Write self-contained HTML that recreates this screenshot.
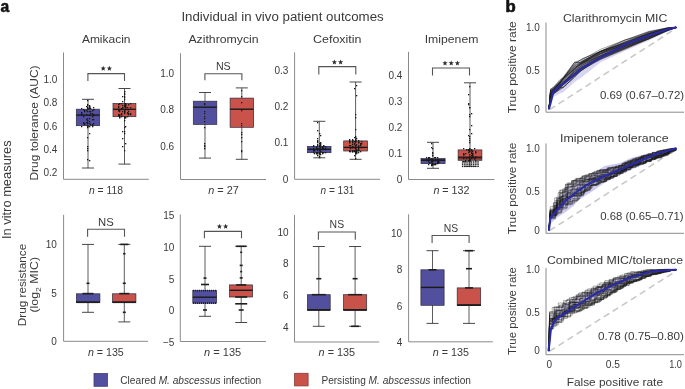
<!DOCTYPE html>
<html><head><meta charset="utf-8"><style>html,body{margin:0;padding:0;background:#fff;overflow:hidden}svg{display:block;will-change:transform}</style></head>
<body><svg width="685" height="389" viewBox="0 0 685 389" font-family='"Liberation Sans", sans-serif'><rect width="685" height="389" fill="#fff"/>
<text x="0.6" y="12.2" font-size="16" text-anchor="start" fill="#111" font-weight="bold" textLength="8.7" lengthAdjust="spacingAndGlyphs" stroke="#111" stroke-width="0.55">a</text>
<text x="505.6" y="12.2" font-size="16" text-anchor="start" fill="#111" font-weight="bold" textLength="10.2" lengthAdjust="spacingAndGlyphs" stroke="#111" stroke-width="0.6">b</text>
<text x="181.4" y="21.2" font-size="12.5" text-anchor="start" fill="#3a3a3a" font-weight="normal" textLength="202.3" lengthAdjust="spacingAndGlyphs">Individual in vivo patient outcomes</text>
<text x="81.9" y="43.1" font-size="11.5" text-anchor="start" fill="#3a3a3a" font-weight="normal" textLength="48.6" lengthAdjust="spacingAndGlyphs">Amikacin</text>
<text x="188.4" y="43.3" font-size="11.5" text-anchor="start" fill="#3a3a3a" font-weight="normal" textLength="70.2" lengthAdjust="spacingAndGlyphs">Azithromycin</text>
<text x="313.1" y="43.3" font-size="11.5" text-anchor="start" fill="#3a3a3a" font-weight="normal" textLength="48.4" lengthAdjust="spacingAndGlyphs">Cefoxitin</text>
<text x="424.7" y="43.3" font-size="11.5" text-anchor="start" fill="#3a3a3a" font-weight="normal" textLength="53.7" lengthAdjust="spacingAndGlyphs">Imipenem</text>
<text transform="translate(37.6,180.6) rotate(-90)" font-size="11.5" text-anchor="start" fill="#3a3a3a" font-weight="normal" textLength="115.2" lengthAdjust="spacingAndGlyphs">Drug tolerance (AUC)</text>
<text transform="translate(10.9,239.1) rotate(-90)" font-size="13.5" text-anchor="start" fill="#3a3a3a" font-weight="normal" textLength="98.8" lengthAdjust="spacingAndGlyphs">In vitro measures</text>
<text transform="translate(25.6,326.3) rotate(-90)" font-size="11.5" text-anchor="start" fill="#3a3a3a" font-weight="normal" textLength="82.5" lengthAdjust="spacingAndGlyphs">Drug resistance</text>
<text transform="translate(38.4,312.5) rotate(-90)" font-size="11.5" fill="#3a3a3a" textLength="55.5" lengthAdjust="spacingAndGlyphs">(log<tspan font-size="8" dy="3">2</tspan><tspan dy="-3"> MIC)</tspan></text>
<path d="M63.5,52.5 V179.3 H148.8" fill="none" stroke="#8a8a8a" stroke-width="1"/>
<text x="57.3" y="82.6" font-size="10" text-anchor="end" fill="#3a3a3a" font-weight="normal">1.0</text>
<text x="57.3" y="105.6" font-size="10" text-anchor="end" fill="#3a3a3a" font-weight="normal">0.8</text>
<text x="57.3" y="129.5" font-size="10" text-anchor="end" fill="#3a3a3a" font-weight="normal">0.6</text>
<text x="57.3" y="153.3" font-size="10" text-anchor="end" fill="#3a3a3a" font-weight="normal">0.4</text>
<text x="57.3" y="175.8" font-size="10" text-anchor="end" fill="#3a3a3a" font-weight="normal">0.2</text>
<line x1="88" y1="99.3" x2="88" y2="168" stroke="#333" stroke-width="0.8"/>
<line x1="82" y1="99.3" x2="94" y2="99.3" stroke="#333" stroke-width="0.9"/>
<line x1="82" y1="168" x2="94" y2="168" stroke="#333" stroke-width="0.9"/>
<rect x="76.3" y="109.2" width="23.299999999999997" height="16.5" fill="#534f9f" stroke="#2a2a3a" stroke-width="0.7"/>
<line x1="76.3" y1="115.1" x2="99.6" y2="115.1" stroke="#1a1a1a" stroke-width="1.4"/>
<rect x="87" y="118" width="1.3" height="1.3" fill="#1a1a1a"/>
<rect x="89" y="105" width="1.3" height="1.3" fill="#1a1a1a"/>
<rect x="87" y="123" width="1.3" height="1.3" fill="#1a1a1a"/>
<rect x="90" y="111" width="1.3" height="1.3" fill="#1a1a1a"/>
<rect x="89" y="118" width="1.3" height="1.3" fill="#1a1a1a"/>
<rect x="84" y="110" width="1.3" height="1.3" fill="#1a1a1a"/>
<rect x="87" y="150" width="1.3" height="1.3" fill="#1a1a1a"/>
<rect x="81" y="126" width="1.3" height="1.3" fill="#1a1a1a"/>
<rect x="87" y="108" width="1.3" height="1.3" fill="#1a1a1a"/>
<rect x="89" y="121" width="1.3" height="1.3" fill="#1a1a1a"/>
<rect x="89" y="133" width="1.3" height="1.3" fill="#1a1a1a"/>
<rect x="87" y="125" width="1.3" height="1.3" fill="#1a1a1a"/>
<rect x="86" y="110" width="1.3" height="1.3" fill="#1a1a1a"/>
<rect x="87" y="120" width="1.3" height="1.3" fill="#1a1a1a"/>
<rect x="93" y="123" width="1.3" height="1.3" fill="#1a1a1a"/>
<rect x="93" y="119" width="1.3" height="1.3" fill="#1a1a1a"/>
<rect x="81" y="114" width="1.3" height="1.3" fill="#1a1a1a"/>
<rect x="87" y="146" width="1.3" height="1.3" fill="#1a1a1a"/>
<rect x="92" y="113" width="1.3" height="1.3" fill="#1a1a1a"/>
<rect x="87" y="148" width="1.3" height="1.3" fill="#1a1a1a"/>
<rect x="87" y="126" width="1.3" height="1.3" fill="#1a1a1a"/>
<rect x="90" y="108" width="1.3" height="1.3" fill="#1a1a1a"/>
<rect x="89" y="123" width="1.3" height="1.3" fill="#1a1a1a"/>
<rect x="86" y="106" width="1.3" height="1.3" fill="#1a1a1a"/>
<rect x="87" y="104" width="1.3" height="1.3" fill="#1a1a1a"/>
<rect x="92" y="119" width="1.3" height="1.3" fill="#1a1a1a"/>
<rect x="87" y="137" width="1.3" height="1.3" fill="#1a1a1a"/>
<rect x="93" y="109" width="1.3" height="1.3" fill="#1a1a1a"/>
<rect x="89" y="126" width="1.3" height="1.3" fill="#1a1a1a"/>
<rect x="81" y="112" width="1.3" height="1.3" fill="#1a1a1a"/>
<rect x="87" y="107" width="1.3" height="1.3" fill="#1a1a1a"/>
<rect x="89" y="106" width="1.3" height="1.3" fill="#1a1a1a"/>
<rect x="92" y="124" width="1.3" height="1.3" fill="#1a1a1a"/>
<rect x="92" y="126" width="1.3" height="1.3" fill="#1a1a1a"/>
<rect x="86" y="119" width="1.3" height="1.3" fill="#1a1a1a"/>
<rect x="87" y="108" width="1.3" height="1.3" fill="#1a1a1a"/>
<rect x="89" y="107" width="1.3" height="1.3" fill="#1a1a1a"/>
<rect x="89" y="107" width="1.3" height="1.3" fill="#1a1a1a"/>
<rect x="87" y="108" width="1.3" height="1.3" fill="#1a1a1a"/>
<rect x="87" y="120" width="1.3" height="1.3" fill="#1a1a1a"/>
<rect x="90" y="113" width="1.3" height="1.3" fill="#1a1a1a"/>
<rect x="81" y="108" width="1.3" height="1.3" fill="#1a1a1a"/>
<rect x="89" y="106" width="1.3" height="1.3" fill="#1a1a1a"/>
<rect x="84" y="111" width="1.3" height="1.3" fill="#1a1a1a"/>
<rect x="93" y="114" width="1.3" height="1.3" fill="#1a1a1a"/>
<rect x="83" y="122" width="1.3" height="1.3" fill="#1a1a1a"/>
<rect x="87" y="105" width="1.3" height="1.3" fill="#1a1a1a"/>
<rect x="87" y="111" width="1.3" height="1.3" fill="#1a1a1a"/>
<rect x="89" y="111" width="1.3" height="1.3" fill="#1a1a1a"/>
<rect x="93" y="109" width="1.3" height="1.3" fill="#1a1a1a"/>
<rect x="86" y="114" width="1.3" height="1.3" fill="#1a1a1a"/>
<rect x="84" y="124" width="1.3" height="1.3" fill="#1a1a1a"/>
<rect x="86" y="122" width="1.3" height="1.3" fill="#1a1a1a"/>
<rect x="87" y="108" width="1.3" height="1.3" fill="#1a1a1a"/>
<rect x="87" y="126" width="1.3" height="1.3" fill="#1a1a1a"/>
<rect x="87" y="127" width="1.3" height="1.3" fill="#1a1a1a"/>
<rect x="83" y="123" width="1.3" height="1.3" fill="#1a1a1a"/>
<rect x="87" y="108" width="1.3" height="1.3" fill="#1a1a1a"/>
<rect x="90" y="124" width="1.3" height="1.3" fill="#1a1a1a"/>
<rect x="89" y="115" width="1.3" height="1.3" fill="#1a1a1a"/>
<rect x="89" y="108" width="1.3" height="1.3" fill="#1a1a1a"/>
<rect x="93" y="107" width="1.3" height="1.3" fill="#1a1a1a"/>
<rect x="87" y="100" width="1.3" height="1.3" fill="#1a1a1a"/>
<rect x="92" y="116" width="1.3" height="1.3" fill="#1a1a1a"/>
<rect x="87" y="159" width="1.3" height="1.3" fill="#1a1a1a"/>
<rect x="87" y="126" width="1.3" height="1.3" fill="#1a1a1a"/>
<rect x="92" y="125" width="1.3" height="1.3" fill="#1a1a1a"/>
<rect x="89" y="160" width="1.3" height="1.3" fill="#1a1a1a"/>
<rect x="83" y="116" width="1.3" height="1.3" fill="#1a1a1a"/>
<rect x="81" y="113" width="1.3" height="1.3" fill="#1a1a1a"/>
<rect x="93" y="115" width="1.3" height="1.3" fill="#1a1a1a"/>
<rect x="92" y="110" width="1.3" height="1.3" fill="#1a1a1a"/>
<rect x="87" y="122" width="1.3" height="1.3" fill="#1a1a1a"/>
<rect x="83" y="109" width="1.3" height="1.3" fill="#1a1a1a"/>
<rect x="84" y="123" width="1.3" height="1.3" fill="#1a1a1a"/>
<line x1="124.5" y1="88.5" x2="124.5" y2="164.1" stroke="#333" stroke-width="0.8"/>
<line x1="118.5" y1="88.5" x2="130.5" y2="88.5" stroke="#333" stroke-width="0.9"/>
<line x1="118.5" y1="164.1" x2="130.5" y2="164.1" stroke="#333" stroke-width="0.9"/>
<rect x="113" y="103.5" width="22.900000000000006" height="13.200000000000003" fill="#c9534a" stroke="#2a2a3a" stroke-width="0.7"/>
<line x1="113" y1="109.3" x2="135.9" y2="109.3" stroke="#1a1a1a" stroke-width="1.4"/>
<rect x="122" y="96" width="1.3" height="1.3" fill="#1a1a1a"/>
<rect x="124" y="106" width="1.3" height="1.3" fill="#1a1a1a"/>
<rect x="118" y="110" width="1.3" height="1.3" fill="#1a1a1a"/>
<rect x="118" y="114" width="1.3" height="1.3" fill="#1a1a1a"/>
<rect x="124" y="116" width="1.3" height="1.3" fill="#1a1a1a"/>
<rect x="119" y="117" width="1.3" height="1.3" fill="#1a1a1a"/>
<rect x="121" y="109" width="1.3" height="1.3" fill="#1a1a1a"/>
<rect x="125" y="107" width="1.3" height="1.3" fill="#1a1a1a"/>
<rect x="122" y="107" width="1.3" height="1.3" fill="#1a1a1a"/>
<rect x="124" y="103" width="1.3" height="1.3" fill="#1a1a1a"/>
<rect x="124" y="103" width="1.3" height="1.3" fill="#1a1a1a"/>
<rect x="128" y="109" width="1.3" height="1.3" fill="#1a1a1a"/>
<rect x="130" y="114" width="1.3" height="1.3" fill="#1a1a1a"/>
<rect x="124" y="96" width="1.3" height="1.3" fill="#1a1a1a"/>
<rect x="127" y="113" width="1.3" height="1.3" fill="#1a1a1a"/>
<rect x="124" y="105" width="1.3" height="1.3" fill="#1a1a1a"/>
<rect x="125" y="103" width="1.3" height="1.3" fill="#1a1a1a"/>
<rect x="118" y="104" width="1.3" height="1.3" fill="#1a1a1a"/>
<rect x="124" y="91" width="1.3" height="1.3" fill="#1a1a1a"/>
<rect x="128" y="113" width="1.3" height="1.3" fill="#1a1a1a"/>
<rect x="125" y="143" width="1.3" height="1.3" fill="#1a1a1a"/>
<rect x="118" y="115" width="1.3" height="1.3" fill="#1a1a1a"/>
<rect x="125" y="105" width="1.3" height="1.3" fill="#1a1a1a"/>
<rect x="119" y="103" width="1.3" height="1.3" fill="#1a1a1a"/>
<rect x="118" y="107" width="1.3" height="1.3" fill="#1a1a1a"/>
<rect x="118" y="115" width="1.3" height="1.3" fill="#1a1a1a"/>
<rect x="124" y="150" width="1.3" height="1.3" fill="#1a1a1a"/>
<rect x="118" y="114" width="1.3" height="1.3" fill="#1a1a1a"/>
<rect x="124" y="131" width="1.3" height="1.3" fill="#1a1a1a"/>
<rect x="128" y="114" width="1.3" height="1.3" fill="#1a1a1a"/>
<rect x="130" y="107" width="1.3" height="1.3" fill="#1a1a1a"/>
<rect x="121" y="103" width="1.3" height="1.3" fill="#1a1a1a"/>
<rect x="125" y="109" width="1.3" height="1.3" fill="#1a1a1a"/>
<rect x="124" y="111" width="1.3" height="1.3" fill="#1a1a1a"/>
<rect x="125" y="117" width="1.3" height="1.3" fill="#1a1a1a"/>
<rect x="125" y="117" width="1.3" height="1.3" fill="#1a1a1a"/>
<rect x="125" y="126" width="1.3" height="1.3" fill="#1a1a1a"/>
<rect x="122" y="131" width="1.3" height="1.3" fill="#1a1a1a"/>
<rect x="121" y="108" width="1.3" height="1.3" fill="#1a1a1a"/>
<rect x="127" y="109" width="1.3" height="1.3" fill="#1a1a1a"/>
<rect x="124" y="127" width="1.3" height="1.3" fill="#1a1a1a"/>
<rect x="121" y="114" width="1.3" height="1.3" fill="#1a1a1a"/>
<rect x="122" y="107" width="1.3" height="1.3" fill="#1a1a1a"/>
<rect x="122" y="146" width="1.3" height="1.3" fill="#1a1a1a"/>
<rect x="124" y="111" width="1.3" height="1.3" fill="#1a1a1a"/>
<rect x="122" y="101" width="1.3" height="1.3" fill="#1a1a1a"/>
<rect x="122" y="111" width="1.3" height="1.3" fill="#1a1a1a"/>
<rect x="121" y="114" width="1.3" height="1.3" fill="#1a1a1a"/>
<rect x="130" y="113" width="1.3" height="1.3" fill="#1a1a1a"/>
<rect x="128" y="111" width="1.3" height="1.3" fill="#1a1a1a"/>
<rect x="119" y="117" width="1.3" height="1.3" fill="#1a1a1a"/>
<rect x="124" y="94" width="1.3" height="1.3" fill="#1a1a1a"/>
<rect x="122" y="105" width="1.3" height="1.3" fill="#1a1a1a"/>
<rect x="119" y="114" width="1.3" height="1.3" fill="#1a1a1a"/>
<rect x="124" y="120" width="1.3" height="1.3" fill="#1a1a1a"/>
<rect x="124" y="97" width="1.3" height="1.3" fill="#1a1a1a"/>
<rect x="124" y="91" width="1.3" height="1.3" fill="#1a1a1a"/>
<rect x="119" y="103" width="1.3" height="1.3" fill="#1a1a1a"/>
<rect x="124" y="106" width="1.3" height="1.3" fill="#1a1a1a"/>
<rect x="124" y="109" width="1.3" height="1.3" fill="#1a1a1a"/>
<rect x="125" y="107" width="1.3" height="1.3" fill="#1a1a1a"/>
<rect x="130" y="103" width="1.3" height="1.3" fill="#1a1a1a"/>
<rect x="124" y="103" width="1.3" height="1.3" fill="#1a1a1a"/>
<rect x="125" y="106" width="1.3" height="1.3" fill="#1a1a1a"/>
<rect x="124" y="116" width="1.3" height="1.3" fill="#1a1a1a"/>
<rect x="124" y="117" width="1.3" height="1.3" fill="#1a1a1a"/>
<rect x="127" y="107" width="1.3" height="1.3" fill="#1a1a1a"/>
<rect x="124" y="112" width="1.3" height="1.3" fill="#1a1a1a"/>
<rect x="124" y="117" width="1.3" height="1.3" fill="#1a1a1a"/>
<rect x="119" y="110" width="1.3" height="1.3" fill="#1a1a1a"/>
<rect x="118" y="110" width="1.3" height="1.3" fill="#1a1a1a"/>
<rect x="124" y="133" width="1.3" height="1.3" fill="#1a1a1a"/>
<rect x="121" y="113" width="1.3" height="1.3" fill="#1a1a1a"/>
<rect x="127" y="116" width="1.3" height="1.3" fill="#1a1a1a"/>
<rect x="121" y="116" width="1.3" height="1.3" fill="#1a1a1a"/>
<rect x="122" y="138" width="1.3" height="1.3" fill="#1a1a1a"/>
<rect x="127" y="112" width="1.3" height="1.3" fill="#1a1a1a"/>
<rect x="119" y="114" width="1.3" height="1.3" fill="#1a1a1a"/>
<rect x="128" y="104" width="1.3" height="1.3" fill="#1a1a1a"/>
<rect x="124" y="113" width="1.3" height="1.3" fill="#1a1a1a"/>
<rect x="118" y="106" width="1.3" height="1.3" fill="#1a1a1a"/>
<rect x="124" y="99" width="1.3" height="1.3" fill="#1a1a1a"/>
<rect x="124" y="110" width="1.3" height="1.3" fill="#1a1a1a"/>
<rect x="124" y="93" width="1.3" height="1.3" fill="#1a1a1a"/>
<rect x="119" y="115" width="1.3" height="1.3" fill="#1a1a1a"/>
<rect x="119" y="111" width="1.3" height="1.3" fill="#1a1a1a"/>
<rect x="119" y="116" width="1.3" height="1.3" fill="#1a1a1a"/>
<rect x="125" y="104" width="1.3" height="1.3" fill="#1a1a1a"/>
<rect x="121" y="108" width="1.3" height="1.3" fill="#1a1a1a"/>
<rect x="125" y="104" width="1.3" height="1.3" fill="#1a1a1a"/>
<path d="M87.9,81 V73.6 H124.5 V81" fill="none" stroke="#555" stroke-width="1.1"/>
<polygon points="103.20,65.70 103.89,67.55 105.86,67.63 104.32,68.86 104.85,70.77 103.20,69.68 101.55,70.77 102.08,68.86 100.54,67.63 102.51,67.55" fill="#2e2e2e"/>
<polygon points="109.40,65.70 110.09,67.55 112.06,67.63 110.52,68.86 111.05,70.77 109.40,69.68 107.75,70.77 108.28,68.86 106.74,67.63 108.71,67.55" fill="#2e2e2e"/>
<text x="89" y="194.2" font-size="11" fill="#3a3a3a" textLength="34" lengthAdjust="spacingAndGlyphs"><tspan font-style="italic">n</tspan> = 118</text>
<path d="M180.5,53.2 V179.5 H266" fill="none" stroke="#8a8a8a" stroke-width="1"/>
<text x="174.2" y="76.8" font-size="10" text-anchor="end" fill="#3a3a3a" font-weight="normal">1.0</text>
<text x="174.2" y="113.0" font-size="10" text-anchor="end" fill="#3a3a3a" font-weight="normal">0.8</text>
<text x="174.2" y="149.8" font-size="10" text-anchor="end" fill="#3a3a3a" font-weight="normal">0.6</text>
<line x1="205" y1="92.5" x2="205" y2="158.1" stroke="#333" stroke-width="0.8"/>
<line x1="199" y1="92.5" x2="211" y2="92.5" stroke="#333" stroke-width="0.9"/>
<line x1="199" y1="158.1" x2="211" y2="158.1" stroke="#333" stroke-width="0.9"/>
<rect x="193.3" y="101.2" width="23.5" height="23.200000000000003" fill="#534f9f" stroke="#2a2a3a" stroke-width="0.7"/>
<line x1="193.3" y1="107.2" x2="216.8" y2="107.2" stroke="#1a1a1a" stroke-width="1.4"/>
<rect x="204" y="143" width="1.3" height="1.3" fill="#1a1a1a"/>
<rect x="204" y="127" width="1.3" height="1.3" fill="#1a1a1a"/>
<rect x="204" y="103" width="1.3" height="1.3" fill="#1a1a1a"/>
<rect x="204" y="104" width="1.3" height="1.3" fill="#1a1a1a"/>
<rect x="204" y="148" width="1.3" height="1.3" fill="#1a1a1a"/>
<rect x="204" y="116" width="1.3" height="1.3" fill="#1a1a1a"/>
<rect x="204" y="111" width="1.3" height="1.3" fill="#1a1a1a"/>
<rect x="204" y="146" width="1.3" height="1.3" fill="#1a1a1a"/>
<rect x="204" y="121" width="1.3" height="1.3" fill="#1a1a1a"/>
<rect x="204" y="118" width="1.3" height="1.3" fill="#1a1a1a"/>
<rect x="204" y="145" width="1.3" height="1.3" fill="#1a1a1a"/>
<rect x="204" y="113" width="1.3" height="1.3" fill="#1a1a1a"/>
<line x1="241.8" y1="87.9" x2="241.8" y2="159.3" stroke="#333" stroke-width="0.8"/>
<line x1="235.8" y1="87.9" x2="247.8" y2="87.9" stroke="#333" stroke-width="0.9"/>
<line x1="235.8" y1="159.3" x2="247.8" y2="159.3" stroke="#333" stroke-width="0.9"/>
<rect x="230.1" y="98.1" width="23.5" height="29.200000000000003" fill="#c9534a" stroke="#2a2a3a" stroke-width="0.7"/>
<line x1="230.1" y1="109.2" x2="253.6" y2="109.2" stroke="#1a1a1a" stroke-width="1.4"/>
<rect x="241" y="151" width="1.3" height="1.3" fill="#1a1a1a"/>
<rect x="241" y="110" width="1.3" height="1.3" fill="#1a1a1a"/>
<rect x="241" y="123" width="1.3" height="1.3" fill="#1a1a1a"/>
<rect x="241" y="125" width="1.3" height="1.3" fill="#1a1a1a"/>
<rect x="241" y="137" width="1.3" height="1.3" fill="#1a1a1a"/>
<rect x="241" y="150" width="1.3" height="1.3" fill="#1a1a1a"/>
<rect x="241" y="134" width="1.3" height="1.3" fill="#1a1a1a"/>
<rect x="241" y="90" width="1.3" height="1.3" fill="#1a1a1a"/>
<rect x="241" y="102" width="1.3" height="1.3" fill="#1a1a1a"/>
<rect x="241" y="132" width="1.3" height="1.3" fill="#1a1a1a"/>
<rect x="241" y="96" width="1.3" height="1.3" fill="#1a1a1a"/>
<rect x="241" y="141" width="1.3" height="1.3" fill="#1a1a1a"/>
<path d="M204.9,80.3 V73.7 H241.9 V80.3" fill="none" stroke="#555" stroke-width="1.1"/>
<text x="223.3" y="69.9" font-size="10.5" text-anchor="middle" fill="#3a3a3a" font-weight="normal" textLength="14.8" lengthAdjust="spacingAndGlyphs">NS</text>
<text x="208.2" y="194.39999999999998" font-size="11" fill="#3a3a3a" textLength="30.7" lengthAdjust="spacingAndGlyphs"><tspan font-style="italic">n</tspan> = 27</text>
<path d="M294.6,52.4 V179.3 H380" fill="none" stroke="#8a8a8a" stroke-width="1"/>
<text x="288.3" y="73.6" font-size="10" text-anchor="end" fill="#3a3a3a" font-weight="normal">0.3</text>
<text x="288.3" y="110.4" font-size="10" text-anchor="end" fill="#3a3a3a" font-weight="normal">0.2</text>
<text x="288.3" y="146.4" font-size="10" text-anchor="end" fill="#3a3a3a" font-weight="normal">0.1</text>
<text x="288.3" y="183.4" font-size="10" text-anchor="end" fill="#3a3a3a" font-weight="normal">0</text>
<line x1="319.3" y1="121.3" x2="319.3" y2="157.8" stroke="#333" stroke-width="0.8"/>
<line x1="313.3" y1="121.3" x2="325.3" y2="121.3" stroke="#333" stroke-width="0.9"/>
<line x1="313.3" y1="157.8" x2="325.3" y2="157.8" stroke="#333" stroke-width="0.9"/>
<rect x="307.5" y="146.5" width="23.5" height="6.199999999999989" fill="#534f9f" stroke="#2a2a3a" stroke-width="0.7"/>
<line x1="307.5" y1="149.3" x2="331" y2="149.3" stroke="#1a1a1a" stroke-width="1.4"/>
<rect x="322" y="146" width="1.3" height="1.3" fill="#1a1a1a"/>
<rect x="317" y="152" width="1.3" height="1.3" fill="#1a1a1a"/>
<rect x="322" y="149" width="1.3" height="1.3" fill="#1a1a1a"/>
<rect x="316" y="147" width="1.3" height="1.3" fill="#1a1a1a"/>
<rect x="325" y="152" width="1.3" height="1.3" fill="#1a1a1a"/>
<rect x="320" y="135" width="1.3" height="1.3" fill="#1a1a1a"/>
<rect x="319" y="149" width="1.3" height="1.3" fill="#1a1a1a"/>
<rect x="316" y="152" width="1.3" height="1.3" fill="#1a1a1a"/>
<rect x="313" y="152" width="1.3" height="1.3" fill="#1a1a1a"/>
<rect x="319" y="153" width="1.3" height="1.3" fill="#1a1a1a"/>
<rect x="319" y="153" width="1.3" height="1.3" fill="#1a1a1a"/>
<rect x="313" y="145" width="1.3" height="1.3" fill="#1a1a1a"/>
<rect x="316" y="152" width="1.3" height="1.3" fill="#1a1a1a"/>
<rect x="314" y="149" width="1.3" height="1.3" fill="#1a1a1a"/>
<rect x="322" y="148" width="1.3" height="1.3" fill="#1a1a1a"/>
<rect x="320" y="149" width="1.3" height="1.3" fill="#1a1a1a"/>
<rect x="313" y="149" width="1.3" height="1.3" fill="#1a1a1a"/>
<rect x="320" y="142" width="1.3" height="1.3" fill="#1a1a1a"/>
<rect x="313" y="148" width="1.3" height="1.3" fill="#1a1a1a"/>
<rect x="317" y="142" width="1.3" height="1.3" fill="#1a1a1a"/>
<rect x="313" y="146" width="1.3" height="1.3" fill="#1a1a1a"/>
<rect x="316" y="148" width="1.3" height="1.3" fill="#1a1a1a"/>
<rect x="325" y="146" width="1.3" height="1.3" fill="#1a1a1a"/>
<rect x="313" y="149" width="1.3" height="1.3" fill="#1a1a1a"/>
<rect x="319" y="143" width="1.3" height="1.3" fill="#1a1a1a"/>
<rect x="317" y="141" width="1.3" height="1.3" fill="#1a1a1a"/>
<rect x="317" y="153" width="1.3" height="1.3" fill="#1a1a1a"/>
<rect x="317" y="148" width="1.3" height="1.3" fill="#1a1a1a"/>
<rect x="319" y="150" width="1.3" height="1.3" fill="#1a1a1a"/>
<rect x="319" y="156" width="1.3" height="1.3" fill="#1a1a1a"/>
<rect x="322" y="152" width="1.3" height="1.3" fill="#1a1a1a"/>
<rect x="320" y="154" width="1.3" height="1.3" fill="#1a1a1a"/>
<rect x="319" y="152" width="1.3" height="1.3" fill="#1a1a1a"/>
<rect x="320" y="145" width="1.3" height="1.3" fill="#1a1a1a"/>
<rect x="319" y="152" width="1.3" height="1.3" fill="#1a1a1a"/>
<rect x="323" y="145" width="1.3" height="1.3" fill="#1a1a1a"/>
<rect x="323" y="145" width="1.3" height="1.3" fill="#1a1a1a"/>
<rect x="317" y="122" width="1.3" height="1.3" fill="#1a1a1a"/>
<rect x="319" y="149" width="1.3" height="1.3" fill="#1a1a1a"/>
<rect x="320" y="143" width="1.3" height="1.3" fill="#1a1a1a"/>
<rect x="319" y="148" width="1.3" height="1.3" fill="#1a1a1a"/>
<rect x="323" y="148" width="1.3" height="1.3" fill="#1a1a1a"/>
<rect x="320" y="147" width="1.3" height="1.3" fill="#1a1a1a"/>
<rect x="320" y="151" width="1.3" height="1.3" fill="#1a1a1a"/>
<rect x="319" y="157" width="1.3" height="1.3" fill="#1a1a1a"/>
<rect x="317" y="140" width="1.3" height="1.3" fill="#1a1a1a"/>
<rect x="323" y="152" width="1.3" height="1.3" fill="#1a1a1a"/>
<rect x="317" y="155" width="1.3" height="1.3" fill="#1a1a1a"/>
<rect x="319" y="145" width="1.3" height="1.3" fill="#1a1a1a"/>
<rect x="319" y="133" width="1.3" height="1.3" fill="#1a1a1a"/>
<rect x="313" y="150" width="1.3" height="1.3" fill="#1a1a1a"/>
<rect x="319" y="153" width="1.3" height="1.3" fill="#1a1a1a"/>
<rect x="319" y="145" width="1.3" height="1.3" fill="#1a1a1a"/>
<rect x="322" y="147" width="1.3" height="1.3" fill="#1a1a1a"/>
<rect x="317" y="150" width="1.3" height="1.3" fill="#1a1a1a"/>
<rect x="316" y="153" width="1.3" height="1.3" fill="#1a1a1a"/>
<rect x="317" y="145" width="1.3" height="1.3" fill="#1a1a1a"/>
<rect x="323" y="146" width="1.3" height="1.3" fill="#1a1a1a"/>
<rect x="325" y="149" width="1.3" height="1.3" fill="#1a1a1a"/>
<rect x="317" y="153" width="1.3" height="1.3" fill="#1a1a1a"/>
<rect x="313" y="150" width="1.3" height="1.3" fill="#1a1a1a"/>
<rect x="319" y="146" width="1.3" height="1.3" fill="#1a1a1a"/>
<rect x="314" y="153" width="1.3" height="1.3" fill="#1a1a1a"/>
<rect x="325" y="148" width="1.3" height="1.3" fill="#1a1a1a"/>
<rect x="319" y="149" width="1.3" height="1.3" fill="#1a1a1a"/>
<rect x="314" y="150" width="1.3" height="1.3" fill="#1a1a1a"/>
<rect x="322" y="153" width="1.3" height="1.3" fill="#1a1a1a"/>
<rect x="317" y="138" width="1.3" height="1.3" fill="#1a1a1a"/>
<rect x="319" y="150" width="1.3" height="1.3" fill="#1a1a1a"/>
<rect x="314" y="149" width="1.3" height="1.3" fill="#1a1a1a"/>
<rect x="319" y="153" width="1.3" height="1.3" fill="#1a1a1a"/>
<rect x="319" y="146" width="1.3" height="1.3" fill="#1a1a1a"/>
<rect x="317" y="144" width="1.3" height="1.3" fill="#1a1a1a"/>
<rect x="316" y="146" width="1.3" height="1.3" fill="#1a1a1a"/>
<rect x="320" y="144" width="1.3" height="1.3" fill="#1a1a1a"/>
<rect x="320" y="151" width="1.3" height="1.3" fill="#1a1a1a"/>
<rect x="325" y="146" width="1.3" height="1.3" fill="#1a1a1a"/>
<rect x="317" y="130" width="1.3" height="1.3" fill="#1a1a1a"/>
<rect x="313" y="150" width="1.3" height="1.3" fill="#1a1a1a"/>
<rect x="316" y="153" width="1.3" height="1.3" fill="#1a1a1a"/>
<line x1="355.6" y1="82" x2="355.6" y2="159.3" stroke="#333" stroke-width="0.8"/>
<line x1="349.6" y1="82" x2="361.6" y2="82" stroke="#333" stroke-width="0.9"/>
<line x1="349.6" y1="159.3" x2="361.6" y2="159.3" stroke="#333" stroke-width="0.9"/>
<rect x="343.7" y="140.9" width="23.80000000000001" height="10.099999999999994" fill="#c9534a" stroke="#2a2a3a" stroke-width="0.7"/>
<line x1="343.7" y1="147.4" x2="367.5" y2="147.4" stroke="#1a1a1a" stroke-width="1.4"/>
<rect x="356" y="138" width="1.3" height="1.3" fill="#1a1a1a"/>
<rect x="349" y="147" width="1.3" height="1.3" fill="#1a1a1a"/>
<rect x="358" y="142" width="1.3" height="1.3" fill="#1a1a1a"/>
<rect x="354" y="143" width="1.3" height="1.3" fill="#1a1a1a"/>
<rect x="355" y="139" width="1.3" height="1.3" fill="#1a1a1a"/>
<rect x="354" y="137" width="1.3" height="1.3" fill="#1a1a1a"/>
<rect x="355" y="158" width="1.3" height="1.3" fill="#1a1a1a"/>
<rect x="354" y="88" width="1.3" height="1.3" fill="#1a1a1a"/>
<rect x="355" y="146" width="1.3" height="1.3" fill="#1a1a1a"/>
<rect x="355" y="140" width="1.3" height="1.3" fill="#1a1a1a"/>
<rect x="355" y="151" width="1.3" height="1.3" fill="#1a1a1a"/>
<rect x="356" y="150" width="1.3" height="1.3" fill="#1a1a1a"/>
<rect x="349" y="139" width="1.3" height="1.3" fill="#1a1a1a"/>
<rect x="358" y="152" width="1.3" height="1.3" fill="#1a1a1a"/>
<rect x="355" y="151" width="1.3" height="1.3" fill="#1a1a1a"/>
<rect x="355" y="137" width="1.3" height="1.3" fill="#1a1a1a"/>
<rect x="349" y="151" width="1.3" height="1.3" fill="#1a1a1a"/>
<rect x="358" y="149" width="1.3" height="1.3" fill="#1a1a1a"/>
<rect x="358" y="142" width="1.3" height="1.3" fill="#1a1a1a"/>
<rect x="349" y="142" width="1.3" height="1.3" fill="#1a1a1a"/>
<rect x="352" y="139" width="1.3" height="1.3" fill="#1a1a1a"/>
<rect x="355" y="151" width="1.3" height="1.3" fill="#1a1a1a"/>
<rect x="355" y="152" width="1.3" height="1.3" fill="#1a1a1a"/>
<rect x="352" y="142" width="1.3" height="1.3" fill="#1a1a1a"/>
<rect x="349" y="145" width="1.3" height="1.3" fill="#1a1a1a"/>
<rect x="356" y="153" width="1.3" height="1.3" fill="#1a1a1a"/>
<rect x="352" y="144" width="1.3" height="1.3" fill="#1a1a1a"/>
<rect x="352" y="140" width="1.3" height="1.3" fill="#1a1a1a"/>
<rect x="355" y="152" width="1.3" height="1.3" fill="#1a1a1a"/>
<rect x="355" y="142" width="1.3" height="1.3" fill="#1a1a1a"/>
<rect x="352" y="151" width="1.3" height="1.3" fill="#1a1a1a"/>
<rect x="349" y="141" width="1.3" height="1.3" fill="#1a1a1a"/>
<rect x="358" y="150" width="1.3" height="1.3" fill="#1a1a1a"/>
<rect x="356" y="150" width="1.3" height="1.3" fill="#1a1a1a"/>
<rect x="352" y="140" width="1.3" height="1.3" fill="#1a1a1a"/>
<rect x="355" y="148" width="1.3" height="1.3" fill="#1a1a1a"/>
<rect x="355" y="148" width="1.3" height="1.3" fill="#1a1a1a"/>
<rect x="358" y="145" width="1.3" height="1.3" fill="#1a1a1a"/>
<rect x="352" y="151" width="1.3" height="1.3" fill="#1a1a1a"/>
<rect x="356" y="151" width="1.3" height="1.3" fill="#1a1a1a"/>
<rect x="349" y="142" width="1.3" height="1.3" fill="#1a1a1a"/>
<rect x="355" y="129" width="1.3" height="1.3" fill="#1a1a1a"/>
<rect x="356" y="144" width="1.3" height="1.3" fill="#1a1a1a"/>
<rect x="355" y="136" width="1.3" height="1.3" fill="#1a1a1a"/>
<rect x="355" y="151" width="1.3" height="1.3" fill="#1a1a1a"/>
<rect x="349" y="150" width="1.3" height="1.3" fill="#1a1a1a"/>
<rect x="354" y="155" width="1.3" height="1.3" fill="#1a1a1a"/>
<rect x="355" y="145" width="1.3" height="1.3" fill="#1a1a1a"/>
<rect x="352" y="146" width="1.3" height="1.3" fill="#1a1a1a"/>
<rect x="352" y="151" width="1.3" height="1.3" fill="#1a1a1a"/>
<rect x="358" y="148" width="1.3" height="1.3" fill="#1a1a1a"/>
<rect x="352" y="147" width="1.3" height="1.3" fill="#1a1a1a"/>
<rect x="352" y="141" width="1.3" height="1.3" fill="#1a1a1a"/>
<rect x="352" y="147" width="1.3" height="1.3" fill="#1a1a1a"/>
<rect x="356" y="85" width="1.3" height="1.3" fill="#1a1a1a"/>
<rect x="356" y="149" width="1.3" height="1.3" fill="#1a1a1a"/>
<rect x="355" y="152" width="1.3" height="1.3" fill="#1a1a1a"/>
<rect x="355" y="140" width="1.3" height="1.3" fill="#1a1a1a"/>
<rect x="361" y="143" width="1.3" height="1.3" fill="#1a1a1a"/>
<rect x="355" y="141" width="1.3" height="1.3" fill="#1a1a1a"/>
<rect x="355" y="151" width="1.3" height="1.3" fill="#1a1a1a"/>
<rect x="350" y="151" width="1.3" height="1.3" fill="#1a1a1a"/>
<rect x="355" y="140" width="1.3" height="1.3" fill="#1a1a1a"/>
<rect x="358" y="150" width="1.3" height="1.3" fill="#1a1a1a"/>
<rect x="360" y="145" width="1.3" height="1.3" fill="#1a1a1a"/>
<rect x="358" y="141" width="1.3" height="1.3" fill="#1a1a1a"/>
<rect x="355" y="117" width="1.3" height="1.3" fill="#1a1a1a"/>
<rect x="352" y="150" width="1.3" height="1.3" fill="#1a1a1a"/>
<rect x="352" y="150" width="1.3" height="1.3" fill="#1a1a1a"/>
<rect x="356" y="152" width="1.3" height="1.3" fill="#1a1a1a"/>
<rect x="361" y="141" width="1.3" height="1.3" fill="#1a1a1a"/>
<rect x="356" y="150" width="1.3" height="1.3" fill="#1a1a1a"/>
<rect x="355" y="153" width="1.3" height="1.3" fill="#1a1a1a"/>
<rect x="358" y="146" width="1.3" height="1.3" fill="#1a1a1a"/>
<rect x="354" y="147" width="1.3" height="1.3" fill="#1a1a1a"/>
<rect x="355" y="145" width="1.3" height="1.3" fill="#1a1a1a"/>
<rect x="361" y="147" width="1.3" height="1.3" fill="#1a1a1a"/>
<rect x="355" y="152" width="1.3" height="1.3" fill="#1a1a1a"/>
<rect x="355" y="152" width="1.3" height="1.3" fill="#1a1a1a"/>
<rect x="354" y="147" width="1.3" height="1.3" fill="#1a1a1a"/>
<rect x="355" y="114" width="1.3" height="1.3" fill="#1a1a1a"/>
<rect x="352" y="142" width="1.3" height="1.3" fill="#1a1a1a"/>
<rect x="352" y="146" width="1.3" height="1.3" fill="#1a1a1a"/>
<rect x="356" y="152" width="1.3" height="1.3" fill="#1a1a1a"/>
<rect x="360" y="144" width="1.3" height="1.3" fill="#1a1a1a"/>
<rect x="354" y="150" width="1.3" height="1.3" fill="#1a1a1a"/>
<rect x="355" y="152" width="1.3" height="1.3" fill="#1a1a1a"/>
<rect x="358" y="140" width="1.3" height="1.3" fill="#1a1a1a"/>
<rect x="356" y="95" width="1.3" height="1.3" fill="#1a1a1a"/>
<rect x="360" y="143" width="1.3" height="1.3" fill="#1a1a1a"/>
<rect x="350" y="145" width="1.3" height="1.3" fill="#1a1a1a"/>
<rect x="354" y="141" width="1.3" height="1.3" fill="#1a1a1a"/>
<rect x="349" y="140" width="1.3" height="1.3" fill="#1a1a1a"/>
<rect x="355" y="140" width="1.3" height="1.3" fill="#1a1a1a"/>
<rect x="349" y="141" width="1.3" height="1.3" fill="#1a1a1a"/>
<rect x="360" y="151" width="1.3" height="1.3" fill="#1a1a1a"/>
<rect x="354" y="144" width="1.3" height="1.3" fill="#1a1a1a"/>
<rect x="350" y="148" width="1.3" height="1.3" fill="#1a1a1a"/>
<rect x="354" y="151" width="1.3" height="1.3" fill="#1a1a1a"/>
<rect x="355" y="150" width="1.3" height="1.3" fill="#1a1a1a"/>
<path d="M318.8,74.6 V66.6 H355.8 V74.6" fill="none" stroke="#555" stroke-width="1.1"/>
<polygon points="334.40,59.40 335.09,61.25 337.06,61.33 335.52,62.56 336.05,64.47 334.40,63.38 332.75,64.47 333.28,62.56 331.74,61.33 333.71,61.25" fill="#2e2e2e"/>
<polygon points="340.60,59.40 341.29,61.25 343.26,61.33 341.72,62.56 342.25,64.47 340.60,63.38 338.95,64.47 339.48,62.56 337.94,61.33 339.91,61.25" fill="#2e2e2e"/>
<text x="320.5" y="194.0" font-size="11" fill="#3a3a3a" textLength="33.9" lengthAdjust="spacingAndGlyphs"><tspan font-style="italic">n</tspan> = 131</text>
<path d="M408.5,51.8 V179.5 H494.5" fill="none" stroke="#8a8a8a" stroke-width="1"/>
<text x="402.3" y="78.7" font-size="10" text-anchor="end" fill="#3a3a3a" font-weight="normal">0.4</text>
<text x="402.3" y="104.8" font-size="10" text-anchor="end" fill="#3a3a3a" font-weight="normal">0.3</text>
<text x="402.3" y="130.8" font-size="10" text-anchor="end" fill="#3a3a3a" font-weight="normal">0.2</text>
<text x="402.3" y="156.8" font-size="10" text-anchor="end" fill="#3a3a3a" font-weight="normal">0.1</text>
<text x="402.3" y="183.4" font-size="10" text-anchor="end" fill="#3a3a3a" font-weight="normal">0</text>
<line x1="433" y1="142.3" x2="433" y2="168.3" stroke="#333" stroke-width="0.8"/>
<line x1="427" y1="142.3" x2="439" y2="142.3" stroke="#333" stroke-width="0.9"/>
<line x1="427" y1="168.3" x2="439" y2="168.3" stroke="#333" stroke-width="0.9"/>
<rect x="421" y="158.6" width="24.100000000000023" height="5.0" fill="#534f9f" stroke="#2a2a3a" stroke-width="0.7"/>
<line x1="421" y1="160.3" x2="445.1" y2="160.3" stroke="#1a1a1a" stroke-width="1.4"/>
<rect x="429" y="157" width="1.3" height="1.3" fill="#1a1a1a"/>
<rect x="426" y="157" width="1.3" height="1.3" fill="#1a1a1a"/>
<rect x="432" y="153" width="1.3" height="1.3" fill="#1a1a1a"/>
<rect x="431" y="158" width="1.3" height="1.3" fill="#1a1a1a"/>
<rect x="432" y="160" width="1.3" height="1.3" fill="#1a1a1a"/>
<rect x="428" y="157" width="1.3" height="1.3" fill="#1a1a1a"/>
<rect x="432" y="164" width="1.3" height="1.3" fill="#1a1a1a"/>
<rect x="435" y="157" width="1.3" height="1.3" fill="#1a1a1a"/>
<rect x="432" y="163" width="1.3" height="1.3" fill="#1a1a1a"/>
<rect x="431" y="164" width="1.3" height="1.3" fill="#1a1a1a"/>
<rect x="432" y="155" width="1.3" height="1.3" fill="#1a1a1a"/>
<rect x="437" y="161" width="1.3" height="1.3" fill="#1a1a1a"/>
<rect x="428" y="161" width="1.3" height="1.3" fill="#1a1a1a"/>
<rect x="437" y="163" width="1.3" height="1.3" fill="#1a1a1a"/>
<rect x="435" y="159" width="1.3" height="1.3" fill="#1a1a1a"/>
<rect x="431" y="161" width="1.3" height="1.3" fill="#1a1a1a"/>
<rect x="438" y="159" width="1.3" height="1.3" fill="#1a1a1a"/>
<rect x="438" y="161" width="1.3" height="1.3" fill="#1a1a1a"/>
<rect x="438" y="159" width="1.3" height="1.3" fill="#1a1a1a"/>
<rect x="432" y="163" width="1.3" height="1.3" fill="#1a1a1a"/>
<rect x="431" y="165" width="1.3" height="1.3" fill="#1a1a1a"/>
<rect x="431" y="147" width="1.3" height="1.3" fill="#1a1a1a"/>
<rect x="434" y="164" width="1.3" height="1.3" fill="#1a1a1a"/>
<rect x="432" y="148" width="1.3" height="1.3" fill="#1a1a1a"/>
<rect x="426" y="160" width="1.3" height="1.3" fill="#1a1a1a"/>
<rect x="431" y="159" width="1.3" height="1.3" fill="#1a1a1a"/>
<rect x="432" y="159" width="1.3" height="1.3" fill="#1a1a1a"/>
<rect x="428" y="164" width="1.3" height="1.3" fill="#1a1a1a"/>
<rect x="429" y="159" width="1.3" height="1.3" fill="#1a1a1a"/>
<rect x="431" y="158" width="1.3" height="1.3" fill="#1a1a1a"/>
<rect x="438" y="162" width="1.3" height="1.3" fill="#1a1a1a"/>
<rect x="437" y="162" width="1.3" height="1.3" fill="#1a1a1a"/>
<rect x="438" y="161" width="1.3" height="1.3" fill="#1a1a1a"/>
<rect x="432" y="159" width="1.3" height="1.3" fill="#1a1a1a"/>
<rect x="435" y="163" width="1.3" height="1.3" fill="#1a1a1a"/>
<rect x="432" y="161" width="1.3" height="1.3" fill="#1a1a1a"/>
<rect x="435" y="160" width="1.3" height="1.3" fill="#1a1a1a"/>
<rect x="435" y="163" width="1.3" height="1.3" fill="#1a1a1a"/>
<rect x="435" y="164" width="1.3" height="1.3" fill="#1a1a1a"/>
<rect x="432" y="155" width="1.3" height="1.3" fill="#1a1a1a"/>
<rect x="437" y="157" width="1.3" height="1.3" fill="#1a1a1a"/>
<rect x="437" y="159" width="1.3" height="1.3" fill="#1a1a1a"/>
<rect x="432" y="164" width="1.3" height="1.3" fill="#1a1a1a"/>
<rect x="431" y="161" width="1.3" height="1.3" fill="#1a1a1a"/>
<rect x="437" y="162" width="1.3" height="1.3" fill="#1a1a1a"/>
<rect x="432" y="161" width="1.3" height="1.3" fill="#1a1a1a"/>
<rect x="432" y="164" width="1.3" height="1.3" fill="#1a1a1a"/>
<rect x="432" y="152" width="1.3" height="1.3" fill="#1a1a1a"/>
<rect x="429" y="159" width="1.3" height="1.3" fill="#1a1a1a"/>
<rect x="438" y="162" width="1.3" height="1.3" fill="#1a1a1a"/>
<rect x="432" y="164" width="1.3" height="1.3" fill="#1a1a1a"/>
<rect x="429" y="162" width="1.3" height="1.3" fill="#1a1a1a"/>
<rect x="434" y="160" width="1.3" height="1.3" fill="#1a1a1a"/>
<rect x="426" y="159" width="1.3" height="1.3" fill="#1a1a1a"/>
<rect x="429" y="162" width="1.3" height="1.3" fill="#1a1a1a"/>
<rect x="428" y="158" width="1.3" height="1.3" fill="#1a1a1a"/>
<rect x="434" y="157" width="1.3" height="1.3" fill="#1a1a1a"/>
<rect x="432" y="164" width="1.3" height="1.3" fill="#1a1a1a"/>
<rect x="431" y="162" width="1.3" height="1.3" fill="#1a1a1a"/>
<rect x="431" y="143" width="1.3" height="1.3" fill="#1a1a1a"/>
<line x1="421.5" y1="159.8" x2="444.5" y2="159.8" stroke="#1e1e1e" stroke-width="1.8" stroke-dasharray="1 1"/>
<line x1="470" y1="82.8" x2="470" y2="166.3" stroke="#333" stroke-width="0.8"/>
<line x1="464" y1="82.8" x2="476" y2="82.8" stroke="#333" stroke-width="0.9"/>
<line x1="464" y1="166.3" x2="476" y2="166.3" stroke="#333" stroke-width="0.9"/>
<rect x="458.1" y="149.9" width="23.799999999999955" height="10.400000000000006" fill="#c9534a" stroke="#2a2a3a" stroke-width="0.7"/>
<line x1="458.1" y1="157.2" x2="481.9" y2="157.2" stroke="#1a1a1a" stroke-width="1.4"/>
<rect x="469" y="150" width="1.3" height="1.3" fill="#1a1a1a"/>
<rect x="471" y="125" width="1.3" height="1.3" fill="#1a1a1a"/>
<rect x="469" y="160" width="1.3" height="1.3" fill="#1a1a1a"/>
<rect x="469" y="159" width="1.3" height="1.3" fill="#1a1a1a"/>
<rect x="468" y="149" width="1.3" height="1.3" fill="#1a1a1a"/>
<rect x="466" y="149" width="1.3" height="1.3" fill="#1a1a1a"/>
<rect x="469" y="157" width="1.3" height="1.3" fill="#1a1a1a"/>
<rect x="468" y="94" width="1.3" height="1.3" fill="#1a1a1a"/>
<rect x="468" y="160" width="1.3" height="1.3" fill="#1a1a1a"/>
<rect x="469" y="142" width="1.3" height="1.3" fill="#1a1a1a"/>
<rect x="463" y="153" width="1.3" height="1.3" fill="#1a1a1a"/>
<rect x="463" y="154" width="1.3" height="1.3" fill="#1a1a1a"/>
<rect x="474" y="158" width="1.3" height="1.3" fill="#1a1a1a"/>
<rect x="469" y="114" width="1.3" height="1.3" fill="#1a1a1a"/>
<rect x="475" y="156" width="1.3" height="1.3" fill="#1a1a1a"/>
<rect x="469" y="160" width="1.3" height="1.3" fill="#1a1a1a"/>
<rect x="465" y="161" width="1.3" height="1.3" fill="#1a1a1a"/>
<rect x="466" y="158" width="1.3" height="1.3" fill="#1a1a1a"/>
<rect x="475" y="152" width="1.3" height="1.3" fill="#1a1a1a"/>
<rect x="469" y="148" width="1.3" height="1.3" fill="#1a1a1a"/>
<rect x="469" y="149" width="1.3" height="1.3" fill="#1a1a1a"/>
<rect x="472" y="155" width="1.3" height="1.3" fill="#1a1a1a"/>
<rect x="472" y="157" width="1.3" height="1.3" fill="#1a1a1a"/>
<rect x="463" y="157" width="1.3" height="1.3" fill="#1a1a1a"/>
<rect x="471" y="157" width="1.3" height="1.3" fill="#1a1a1a"/>
<rect x="474" y="148" width="1.3" height="1.3" fill="#1a1a1a"/>
<rect x="469" y="160" width="1.3" height="1.3" fill="#1a1a1a"/>
<rect x="468" y="104" width="1.3" height="1.3" fill="#1a1a1a"/>
<rect x="468" y="160" width="1.3" height="1.3" fill="#1a1a1a"/>
<rect x="469" y="159" width="1.3" height="1.3" fill="#1a1a1a"/>
<rect x="471" y="150" width="1.3" height="1.3" fill="#1a1a1a"/>
<rect x="475" y="152" width="1.3" height="1.3" fill="#1a1a1a"/>
<rect x="468" y="157" width="1.3" height="1.3" fill="#1a1a1a"/>
<rect x="463" y="148" width="1.3" height="1.3" fill="#1a1a1a"/>
<rect x="472" y="151" width="1.3" height="1.3" fill="#1a1a1a"/>
<rect x="475" y="151" width="1.3" height="1.3" fill="#1a1a1a"/>
<rect x="468" y="160" width="1.3" height="1.3" fill="#1a1a1a"/>
<rect x="469" y="154" width="1.3" height="1.3" fill="#1a1a1a"/>
<rect x="471" y="133" width="1.3" height="1.3" fill="#1a1a1a"/>
<rect x="475" y="160" width="1.3" height="1.3" fill="#1a1a1a"/>
<rect x="469" y="129" width="1.3" height="1.3" fill="#1a1a1a"/>
<rect x="469" y="138" width="1.3" height="1.3" fill="#1a1a1a"/>
<rect x="472" y="154" width="1.3" height="1.3" fill="#1a1a1a"/>
<rect x="469" y="160" width="1.3" height="1.3" fill="#1a1a1a"/>
<rect x="463" y="154" width="1.3" height="1.3" fill="#1a1a1a"/>
<rect x="472" y="155" width="1.3" height="1.3" fill="#1a1a1a"/>
<rect x="469" y="116" width="1.3" height="1.3" fill="#1a1a1a"/>
<rect x="469" y="107" width="1.3" height="1.3" fill="#1a1a1a"/>
<rect x="471" y="155" width="1.3" height="1.3" fill="#1a1a1a"/>
<rect x="469" y="86" width="1.3" height="1.3" fill="#1a1a1a"/>
<rect x="471" y="150" width="1.3" height="1.3" fill="#1a1a1a"/>
<rect x="474" y="158" width="1.3" height="1.3" fill="#1a1a1a"/>
<rect x="469" y="150" width="1.3" height="1.3" fill="#1a1a1a"/>
<rect x="463" y="161" width="1.3" height="1.3" fill="#1a1a1a"/>
<rect x="472" y="153" width="1.3" height="1.3" fill="#1a1a1a"/>
<rect x="471" y="113" width="1.3" height="1.3" fill="#1a1a1a"/>
<rect x="469" y="140" width="1.3" height="1.3" fill="#1a1a1a"/>
<rect x="469" y="154" width="1.3" height="1.3" fill="#1a1a1a"/>
<rect x="469" y="160" width="1.3" height="1.3" fill="#1a1a1a"/>
<rect x="471" y="158" width="1.3" height="1.3" fill="#1a1a1a"/>
<rect x="469" y="151" width="1.3" height="1.3" fill="#1a1a1a"/>
<rect x="475" y="157" width="1.3" height="1.3" fill="#1a1a1a"/>
<rect x="471" y="153" width="1.3" height="1.3" fill="#1a1a1a"/>
<rect x="466" y="149" width="1.3" height="1.3" fill="#1a1a1a"/>
<rect x="468" y="135" width="1.3" height="1.3" fill="#1a1a1a"/>
<rect x="471" y="152" width="1.3" height="1.3" fill="#1a1a1a"/>
<rect x="468" y="103" width="1.3" height="1.3" fill="#1a1a1a"/>
<rect x="469" y="158" width="1.3" height="1.3" fill="#1a1a1a"/>
<rect x="468" y="150" width="1.3" height="1.3" fill="#1a1a1a"/>
<rect x="469" y="136" width="1.3" height="1.3" fill="#1a1a1a"/>
<rect x="472" y="153" width="1.3" height="1.3" fill="#1a1a1a"/>
<rect x="471" y="155" width="1.3" height="1.3" fill="#1a1a1a"/>
<rect x="463" y="154" width="1.3" height="1.3" fill="#1a1a1a"/>
<rect x="463" y="157" width="1.3" height="1.3" fill="#1a1a1a"/>
<rect x="465" y="160" width="1.3" height="1.3" fill="#1a1a1a"/>
<rect x="469" y="107" width="1.3" height="1.3" fill="#1a1a1a"/>
<rect x="469" y="156" width="1.3" height="1.3" fill="#1a1a1a"/>
<rect x="471" y="150" width="1.3" height="1.3" fill="#1a1a1a"/>
<rect x="468" y="150" width="1.3" height="1.3" fill="#1a1a1a"/>
<rect x="472" y="156" width="1.3" height="1.3" fill="#1a1a1a"/>
<rect x="463" y="154" width="1.3" height="1.3" fill="#1a1a1a"/>
<rect x="469" y="148" width="1.3" height="1.3" fill="#1a1a1a"/>
<rect x="465" y="153" width="1.3" height="1.3" fill="#1a1a1a"/>
<rect x="471" y="149" width="1.3" height="1.3" fill="#1a1a1a"/>
<rect x="469" y="151" width="1.3" height="1.3" fill="#1a1a1a"/>
<rect x="469" y="160" width="1.3" height="1.3" fill="#1a1a1a"/>
<rect x="474" y="158" width="1.3" height="1.3" fill="#1a1a1a"/>
<rect x="463" y="158" width="1.3" height="1.3" fill="#1a1a1a"/>
<rect x="468" y="152" width="1.3" height="1.3" fill="#1a1a1a"/>
<rect x="469" y="159" width="1.3" height="1.3" fill="#1a1a1a"/>
<line x1="458.5" y1="158.6" x2="481.5" y2="158.6" stroke="#1e1e1e" stroke-width="1.8" stroke-dasharray="1 1"/>
<rect x="461.9" y="161.2" width="1.5" height="1.5" fill="#1e1e1e"/>
<rect x="464.1" y="161.2" width="1.5" height="1.5" fill="#1e1e1e"/>
<rect x="466.3" y="161.2" width="1.5" height="1.5" fill="#1e1e1e"/>
<rect x="468.5" y="161.2" width="1.5" height="1.5" fill="#1e1e1e"/>
<rect x="470.7" y="161.2" width="1.5" height="1.5" fill="#1e1e1e"/>
<rect x="472.9" y="161.2" width="1.5" height="1.5" fill="#1e1e1e"/>
<rect x="475.1" y="161.2" width="1.5" height="1.5" fill="#1e1e1e"/>
<rect x="477.3" y="161.2" width="1.5" height="1.5" fill="#1e1e1e"/>
<rect x="461.9" y="163.4" width="1.5" height="1.5" fill="#1e1e1e"/>
<rect x="464.1" y="163.4" width="1.5" height="1.5" fill="#1e1e1e"/>
<rect x="466.3" y="163.4" width="1.5" height="1.5" fill="#1e1e1e"/>
<rect x="468.5" y="163.4" width="1.5" height="1.5" fill="#1e1e1e"/>
<rect x="470.7" y="163.4" width="1.5" height="1.5" fill="#1e1e1e"/>
<rect x="472.9" y="163.4" width="1.5" height="1.5" fill="#1e1e1e"/>
<rect x="475.1" y="163.4" width="1.5" height="1.5" fill="#1e1e1e"/>
<rect x="477.3" y="163.4" width="1.5" height="1.5" fill="#1e1e1e"/>
<rect x="461.9" y="165.6" width="1.5" height="1.5" fill="#1e1e1e"/>
<rect x="464.1" y="165.6" width="1.5" height="1.5" fill="#1e1e1e"/>
<rect x="466.3" y="165.6" width="1.5" height="1.5" fill="#1e1e1e"/>
<rect x="468.5" y="165.6" width="1.5" height="1.5" fill="#1e1e1e"/>
<rect x="470.7" y="165.6" width="1.5" height="1.5" fill="#1e1e1e"/>
<rect x="472.9" y="165.6" width="1.5" height="1.5" fill="#1e1e1e"/>
<rect x="475.1" y="165.6" width="1.5" height="1.5" fill="#1e1e1e"/>
<rect x="477.3" y="165.6" width="1.5" height="1.5" fill="#1e1e1e"/>
<path d="M432.5,75.5 V68 H469.5 V75.5" fill="none" stroke="#555" stroke-width="1.1"/>
<polygon points="445.00,60.40 445.69,62.25 447.66,62.33 446.12,63.56 446.65,65.47 445.00,64.38 443.35,65.47 443.88,63.56 442.34,62.33 444.31,62.25" fill="#2e2e2e"/>
<polygon points="451.20,60.40 451.89,62.25 453.86,62.33 452.32,63.56 452.85,65.47 451.20,64.38 449.55,65.47 450.08,63.56 448.54,62.33 450.51,62.25" fill="#2e2e2e"/>
<polygon points="457.40,60.40 458.09,62.25 460.06,62.33 458.52,63.56 459.05,65.47 457.40,64.38 455.75,65.47 456.28,63.56 454.74,62.33 456.71,62.25" fill="#2e2e2e"/>
<text x="433.4" y="194.0" font-size="11" fill="#3a3a3a" textLength="36.1" lengthAdjust="spacingAndGlyphs"><tspan font-style="italic">n</tspan> = 132</text>
<path d="M63.6,214.8 V341.3 H148" fill="none" stroke="#8a8a8a" stroke-width="1"/>
<text x="56.8" y="248.4" font-size="10" text-anchor="end" fill="#3a3a3a" font-weight="normal">10</text>
<text x="56.8" y="297.3" font-size="10" text-anchor="end" fill="#3a3a3a" font-weight="normal">5</text>
<text x="56.8" y="345.1" font-size="10" text-anchor="end" fill="#3a3a3a" font-weight="normal">0</text>
<line x1="88" y1="244.4" x2="88" y2="312.3" stroke="#333" stroke-width="0.8"/>
<line x1="82" y1="244.4" x2="94" y2="244.4" stroke="#333" stroke-width="0.9"/>
<line x1="82" y1="312.3" x2="94" y2="312.3" stroke="#333" stroke-width="0.9"/>
<rect x="76.4" y="293.8" width="23.5" height="8.699999999999989" fill="#534f9f" stroke="#2a2a3a" stroke-width="0.7"/>
<line x1="76.4" y1="302.2" x2="99.9" y2="302.2" stroke="#1a1a1a" stroke-width="1.4"/>
<rect x="86.50" y="282.50" width="3.00" height="1.6" fill="#1e1e1e"/>
<rect x="82.50" y="292.80" width="11.00" height="1.6" fill="#1e1e1e"/>
<rect x="76.50" y="301.50" width="23.00" height="1.6" fill="#1e1e1e"/>
<line x1="124.3" y1="244.4" x2="124.3" y2="321.9" stroke="#333" stroke-width="0.8"/>
<line x1="118.3" y1="244.4" x2="130.3" y2="244.4" stroke="#333" stroke-width="0.9"/>
<line x1="118.3" y1="321.9" x2="130.3" y2="321.9" stroke="#333" stroke-width="0.9"/>
<rect x="112.5" y="293.8" width="23.400000000000006" height="8.699999999999989" fill="#c9534a" stroke="#2a2a3a" stroke-width="0.7"/>
<line x1="112.5" y1="302.2" x2="135.9" y2="302.2" stroke="#1a1a1a" stroke-width="1.4"/>
<rect x="123.10" y="252.90" width="2.40" height="1.6" fill="#1e1e1e"/>
<rect x="122.80" y="282.50" width="3.00" height="1.6" fill="#1e1e1e"/>
<rect x="119.30" y="292.80" width="10.00" height="1.6" fill="#1e1e1e"/>
<rect x="112.80" y="301.50" width="23.00" height="1.6" fill="#1e1e1e"/>
<rect x="122.80" y="311.50" width="3.00" height="1.6" fill="#1e1e1e"/>
<rect x="120.30" y="243.60" width="8.00" height="1.6" fill="#1e1e1e"/>
<path d="M87.6,236.7 V229.2 H124.5 V236.7" fill="none" stroke="#555" stroke-width="1.1"/>
<text x="105.94999999999999" y="226.2" font-size="10.5" text-anchor="middle" fill="#3a3a3a" font-weight="normal" textLength="15.7" lengthAdjust="spacingAndGlyphs">NS</text>
<text x="87.9" y="356.09999999999997" font-size="11" fill="#3a3a3a" textLength="35.9" lengthAdjust="spacingAndGlyphs"><tspan font-style="italic">n</tspan> = 135</text>
<path d="M180.3,214.5 V341.5 H266" fill="none" stroke="#8a8a8a" stroke-width="1"/>
<text x="174.3" y="218.7" font-size="10" text-anchor="end" fill="#3a3a3a" font-weight="normal">15</text>
<text x="174.3" y="250.6" font-size="10" text-anchor="end" fill="#3a3a3a" font-weight="normal">10</text>
<text x="174.3" y="282.6" font-size="10" text-anchor="end" fill="#3a3a3a" font-weight="normal">5</text>
<text x="174.3" y="314.3" font-size="10" text-anchor="end" fill="#3a3a3a" font-weight="normal">0</text>
<text x="174.3" y="345.9" font-size="10" text-anchor="end" fill="#3a3a3a" font-weight="normal">−5</text>
<line x1="205" y1="246.3" x2="205" y2="316.3" stroke="#333" stroke-width="0.8"/>
<line x1="199" y1="246.3" x2="211" y2="246.3" stroke="#333" stroke-width="0.9"/>
<line x1="199" y1="316.3" x2="211" y2="316.3" stroke="#333" stroke-width="0.9"/>
<rect x="192.8" y="290.6" width="23.799999999999983" height="12.599999999999966" fill="#534f9f" stroke="#2a2a3a" stroke-width="0.7"/>
<line x1="192.8" y1="297.2" x2="216.6" y2="297.2" stroke="#1a1a1a" stroke-width="1.4"/>
<rect x="203.50" y="277.30" width="3.00" height="1.6" fill="#1e1e1e"/>
<rect x="201.00" y="283.70" width="8.00" height="1.6" fill="#1e1e1e"/>
<rect x="203.00" y="309.20" width="4.00" height="1.6" fill="#1e1e1e"/>
<line x1="193" y1="290.6" x2="217" y2="290.6" stroke="#1e1e1e" stroke-width="1.8" stroke-dasharray="1 1"/>
<line x1="193" y1="303.2" x2="217" y2="303.2" stroke="#1e1e1e" stroke-width="1.8" stroke-dasharray="1 1"/>
<line x1="241.2" y1="246.3" x2="241.2" y2="322.5" stroke="#333" stroke-width="0.8"/>
<line x1="235.2" y1="246.3" x2="247.2" y2="246.3" stroke="#333" stroke-width="0.9"/>
<line x1="235.2" y1="322.5" x2="247.2" y2="322.5" stroke="#333" stroke-width="0.9"/>
<rect x="229.5" y="284.9" width="23.099999999999994" height="12.100000000000023" fill="#c9534a" stroke="#2a2a3a" stroke-width="0.7"/>
<line x1="229.5" y1="290.3" x2="252.6" y2="290.3" stroke="#1a1a1a" stroke-width="1.4"/>
<rect x="240.20" y="251.50" width="2.00" height="1.6" fill="#1e1e1e"/>
<rect x="239.70" y="264.60" width="3.00" height="1.6" fill="#1e1e1e"/>
<rect x="240.20" y="270.80" width="2.00" height="1.6" fill="#1e1e1e"/>
<rect x="239.70" y="277.10" width="3.00" height="1.6" fill="#1e1e1e"/>
<rect x="236.20" y="284.10" width="10.00" height="1.6" fill="#1e1e1e"/>
<rect x="235.20" y="296.20" width="12.00" height="1.6" fill="#1e1e1e"/>
<rect x="235.20" y="303.00" width="12.00" height="1.6" fill="#1e1e1e"/>
<rect x="238.70" y="309.20" width="5.00" height="1.6" fill="#1e1e1e"/>
<rect x="236.20" y="245.50" width="10.00" height="1.6" fill="#1e1e1e"/>
<path d="M204.4,238.2 V231.4 H241.5 V238.2" fill="none" stroke="#555" stroke-width="1.1"/>
<polygon points="219.45,223.70 220.14,225.55 222.11,225.63 220.57,226.86 221.10,228.77 219.45,227.68 217.80,228.77 218.33,226.86 216.79,225.63 218.76,225.55" fill="#2e2e2e"/>
<polygon points="225.65,223.70 226.34,225.55 228.31,225.63 226.77,226.86 227.30,228.77 225.65,227.68 224.00,228.77 224.53,226.86 222.99,225.63 224.96,225.55" fill="#2e2e2e"/>
<text x="204" y="355.9" font-size="11" fill="#3a3a3a" textLength="37.2" lengthAdjust="spacingAndGlyphs"><tspan font-style="italic">n</tspan> = 135</text>
<path d="M294.5,215 V342 H379.2" fill="none" stroke="#8a8a8a" stroke-width="1"/>
<text x="288.5" y="235.5" font-size="10" text-anchor="end" fill="#3a3a3a" font-weight="normal">10</text>
<text x="288.5" y="266.6" font-size="10" text-anchor="end" fill="#3a3a3a" font-weight="normal">8</text>
<text x="288.5" y="298.6" font-size="10" text-anchor="end" fill="#3a3a3a" font-weight="normal">6</text>
<text x="288.5" y="330.6" font-size="10" text-anchor="end" fill="#3a3a3a" font-weight="normal">4</text>
<line x1="318.8" y1="246.5" x2="318.8" y2="326.3" stroke="#333" stroke-width="0.8"/>
<line x1="312.8" y1="246.5" x2="324.8" y2="246.5" stroke="#333" stroke-width="0.9"/>
<line x1="312.8" y1="326.3" x2="324.8" y2="326.3" stroke="#333" stroke-width="0.9"/>
<rect x="307.4" y="294.7" width="22.80000000000001" height="15.400000000000034" fill="#534f9f" stroke="#2a2a3a" stroke-width="0.7"/>
<line x1="307.4" y1="309.8" x2="330.2" y2="309.8" stroke="#1a1a1a" stroke-width="1.4"/>
<rect x="316.30" y="277.90" width="5.00" height="1.6" fill="#1e1e1e"/>
<rect x="311.80" y="293.90" width="14.00" height="1.6" fill="#1e1e1e"/>
<rect x="307.40" y="309.10" width="22.80" height="1.6" fill="#1e1e1e"/>
<line x1="355.1" y1="246.5" x2="355.1" y2="326.3" stroke="#333" stroke-width="0.8"/>
<line x1="349.1" y1="246.5" x2="361.1" y2="246.5" stroke="#333" stroke-width="0.9"/>
<line x1="349.1" y1="326.3" x2="361.1" y2="326.3" stroke="#333" stroke-width="0.9"/>
<rect x="343.5" y="294.7" width="23.19999999999999" height="15.400000000000034" fill="#c9534a" stroke="#2a2a3a" stroke-width="0.7"/>
<line x1="343.5" y1="309.8" x2="366.7" y2="309.8" stroke="#1a1a1a" stroke-width="1.4"/>
<rect x="352.60" y="277.90" width="5.00" height="1.6" fill="#1e1e1e"/>
<rect x="348.10" y="293.90" width="14.00" height="1.6" fill="#1e1e1e"/>
<rect x="343.50" y="309.10" width="23.20" height="1.6" fill="#1e1e1e"/>
<rect x="351.10" y="325.50" width="8.00" height="1.6" fill="#1e1e1e"/>
<path d="M318.4,239.7 V232 H355.3 V239.7" fill="none" stroke="#555" stroke-width="1.1"/>
<text x="336.85" y="228.2" font-size="10.5" text-anchor="middle" fill="#3a3a3a" font-weight="normal" textLength="14.5" lengthAdjust="spacingAndGlyphs">NS</text>
<text x="318.6" y="355.9" font-size="11" fill="#3a3a3a" textLength="36.5" lengthAdjust="spacingAndGlyphs"><tspan font-style="italic">n</tspan> = 135</text>
<path d="M408.6,214.3 V341.8 H492.9" fill="none" stroke="#8a8a8a" stroke-width="1"/>
<text x="402.2" y="237.1" font-size="10" text-anchor="end" fill="#3a3a3a" font-weight="normal">10</text>
<text x="402.2" y="273.2" font-size="10" text-anchor="end" fill="#3a3a3a" font-weight="normal">8</text>
<text x="402.2" y="309.8" font-size="10" text-anchor="end" fill="#3a3a3a" font-weight="normal">6</text>
<text x="402.2" y="345.9" font-size="10" text-anchor="end" fill="#3a3a3a" font-weight="normal">4</text>
<line x1="432.5" y1="250.7" x2="432.5" y2="323.4" stroke="#333" stroke-width="0.8"/>
<line x1="426.5" y1="250.7" x2="438.5" y2="250.7" stroke="#333" stroke-width="0.9"/>
<line x1="426.5" y1="323.4" x2="438.5" y2="323.4" stroke="#333" stroke-width="0.9"/>
<rect x="420.9" y="269.8" width="23.200000000000045" height="35.5" fill="#534f9f" stroke="#2a2a3a" stroke-width="0.7"/>
<line x1="420.9" y1="287.4" x2="444.1" y2="287.4" stroke="#1a1a1a" stroke-width="1.4"/>
<rect x="428.50" y="269.00" width="8.00" height="1.6" fill="#1e1e1e"/>
<line x1="469" y1="250.7" x2="469" y2="323.4" stroke="#333" stroke-width="0.8"/>
<line x1="463" y1="250.7" x2="475" y2="250.7" stroke="#333" stroke-width="0.9"/>
<line x1="463" y1="323.4" x2="475" y2="323.4" stroke="#333" stroke-width="0.9"/>
<rect x="457.2" y="287.9" width="23.5" height="17.400000000000034" fill="#c9534a" stroke="#2a2a3a" stroke-width="0.7"/>
<line x1="457.2" y1="305.0" x2="480.7" y2="305.0" stroke="#1a1a1a" stroke-width="1.4"/>
<rect x="466.00" y="267.90" width="6.00" height="1.6" fill="#1e1e1e"/>
<rect x="465.00" y="287.10" width="8.00" height="1.6" fill="#1e1e1e"/>
<rect x="457.30" y="304.40" width="23.40" height="1.6" fill="#1e1e1e"/>
<rect x="465.00" y="249.90" width="8.00" height="1.6" fill="#1e1e1e"/>
<path d="M432.1,243 V235.5 H469.1 V243" fill="none" stroke="#555" stroke-width="1.1"/>
<text x="450.9" y="232.4" font-size="10.5" text-anchor="middle" fill="#3a3a3a" font-weight="normal" textLength="14.4" lengthAdjust="spacingAndGlyphs">NS</text>
<text x="432.7" y="356.0" font-size="11" fill="#3a3a3a" textLength="36.2" lengthAdjust="spacingAndGlyphs"><tspan font-style="italic">n</tspan> = 135</text>
<rect x="94" y="373.5" width="13.5" height="12.8" fill="#534f9f" stroke="#3c3c7a" stroke-width="0.8"/>
<rect x="294.6" y="373.3" width="13.5" height="12.6" fill="#c9534a" stroke="#8a3a35" stroke-width="0.8"/>
<text x="120.3" y="383.9" font-size="10.5" fill="#3a3a3a" textLength="140.9" lengthAdjust="spacingAndGlyphs">Cleared <tspan font-style="italic">M. abscessus</tspan> infection</text>
<text x="321.4" y="383.9" font-size="10.5" fill="#3a3a3a" textLength="149.5" lengthAdjust="spacingAndGlyphs">Persisting <tspan font-style="italic">M. abscessus</tspan> infection</text>
<text x="563" y="21.7" font-size="11.5" text-anchor="start" fill="#3a3a3a" font-weight="normal" textLength="104.4" lengthAdjust="spacingAndGlyphs">Clarithromycin MIC</text>
<path d="M546,22.5 V112.2 H684" fill="none" stroke="#8a8a8a" stroke-width="1"/>
<text x="539.8" y="30.5" font-size="10" text-anchor="end" fill="#3a3a3a" font-weight="normal">1.0</text>
<text x="539.8" y="73.5" font-size="10" text-anchor="end" fill="#3a3a3a" font-weight="normal">0.5</text>
<text x="539.8" y="112.6" font-size="10" text-anchor="end" fill="#3a3a3a" font-weight="normal">0</text>
<text x="599.9" y="99.2" font-size="11.5" text-anchor="start" fill="#3a3a3a" font-weight="normal" textLength="84.3" lengthAdjust="spacingAndGlyphs">0.69 (0.67–0.72)</text>
<text transform="translate(515.6,113.3) rotate(-90)" font-size="10.8" text-anchor="start" fill="#3a3a3a" font-weight="normal" textLength="92.0" lengthAdjust="spacingAndGlyphs">True positive rate</text>
<line x1="549" y1="110.0" x2="676" y2="28.4" stroke="#c6c6c6" stroke-width="1.5" stroke-dasharray="6.5 4.2" stroke-dashoffset="-0.6"/>
<polygon points="549.0,109.0 550.6,91.0 553.3,88.0 559.8,81.0 563.5,77.0 574.6,64.0 582.0,60.0 600.6,51.0 625.0,40.5 648.9,30.5 666.9,27.5 676.0,27.2 676.0,27.6 666.9,32.0 648.9,40.5 625.0,51.0 600.6,62.2 582.0,77.0 574.6,82.0 563.5,91.9 559.8,93.5 553.3,97.0 550.6,103.0 549.0,109.0" fill="#d8d5f2"/>
<polyline points="549.0,109.0 550.6,93.6 553.3,92.8 559.8,85.3 563.5,83.2 574.6,71.3 582.0,63.5 600.6,56.1 625.0,44.7 648.9,35.0 666.9,30.0 676.0,27.5" fill="none" stroke="#1e1e1e" stroke-width="0.55" opacity="0.75"/>
<polyline points="549.0,109.0 550.6,91.1 553.3,89.4 559.8,82.2 563.5,78.3 574.6,68.8 582.0,61.5 600.6,51.3 625.0,42.4 648.9,33.0 666.9,28.4 676.0,27.3" fill="none" stroke="#1e1e1e" stroke-width="0.55" opacity="0.75"/>
<polyline points="549.0,109.0 550.6,89.0 553.3,87.4 559.8,82.2 563.5,76.6 574.6,62.2 582.0,59.8 600.6,49.3 625.0,40.0 648.9,31.5 666.9,28.1 676.0,27.2" fill="none" stroke="#1e1e1e" stroke-width="0.55" opacity="0.75"/>
<polyline points="549.0,109.0 550.6,98.2 553.3,94.1 559.8,89.5 563.5,87.1 574.6,76.9 582.0,69.7 600.6,59.4 625.0,49.3 648.9,38.8 666.9,30.8 676.0,27.6" fill="none" stroke="#1e1e1e" stroke-width="0.55" opacity="0.75"/>
<polyline points="549.0,109.0 550.6,97.3 553.3,92.2 559.8,87.9 563.5,87.2 574.6,75.6 582.0,70.2 600.6,57.8 625.0,47.7 648.9,37.5 666.9,30.5 676.0,27.5" fill="none" stroke="#1e1e1e" stroke-width="0.55" opacity="0.75"/>
<polyline points="549.0,109.0 550.6,94.8 553.3,92.1 559.8,87.4 563.5,83.0 574.6,72.9 582.0,67.8 600.6,54.2 625.0,44.9 648.9,36.4 666.9,29.1 676.0,27.4" fill="none" stroke="#1e1e1e" stroke-width="0.55" opacity="0.75"/>
<polyline points="549.0,109.0 550.6,89.0 553.3,87.9 559.8,80.7 563.5,77.6 574.6,63.6 582.0,59.0 600.6,51.4 625.0,41.7 648.9,32.0 666.9,28.4 676.0,27.2" fill="none" stroke="#1e1e1e" stroke-width="0.55" opacity="0.75"/>
<polyline points="549.0,109.0 550.6,92.6 553.3,89.7 559.8,83.1 563.5,78.2 574.6,62.6 582.0,62.5 600.6,52.7 625.0,43.9 648.9,33.8 666.9,28.5 676.0,27.3" fill="none" stroke="#1e1e1e" stroke-width="0.55" opacity="0.75"/>
<polyline points="549.0,109.0 550.6,94.1 553.3,91.3 559.8,85.7 563.5,82.9 574.6,70.8 582.0,63.6 600.6,55.4 625.0,46.4 648.9,36.8 666.9,30.1 676.0,27.4" fill="none" stroke="#1e1e1e" stroke-width="0.55" opacity="0.75"/>
<polyline points="549.0,109.0 550.6,97.5 553.3,93.8 559.8,88.8 563.5,84.5 574.6,75.3 582.0,70.2 600.6,57.3 625.0,48.2 648.9,37.3 666.9,29.8 676.0,27.5" fill="none" stroke="#1e1e1e" stroke-width="0.55" opacity="0.75"/>
<polyline points="549.0,109.0 550.6,94.7 553.3,91.0 559.8,85.1 563.5,83.9 574.6,69.0 582.0,63.4 600.6,53.4 625.0,44.3 648.9,35.3 666.9,29.2 676.0,27.5" fill="none" stroke="#1e1e1e" stroke-width="0.55" opacity="0.75"/>
<polyline points="549.0,109.0 550.6,98.9 553.3,93.8 559.8,86.9 563.5,84.8 574.6,73.1 582.0,67.9 600.6,59.1 625.0,47.9 648.9,38.8 666.9,30.6 676.0,27.5" fill="none" stroke="#1e1e1e" stroke-width="0.55" opacity="0.75"/>
<polyline points="549.0,109.0 550.6,91.5 553.3,89.1 559.8,82.6 563.5,78.6 574.6,66.3 582.0,61.5 600.6,51.4 625.0,43.2 648.9,32.8 666.9,28.8 676.0,27.3" fill="none" stroke="#1e1e1e" stroke-width="0.55" opacity="0.75"/>
<polyline points="549.0,109.0 550.6,93.8 553.3,91.1 559.8,87.4 563.5,84.3 574.6,70.2 582.0,69.0 600.6,55.5 625.0,45.0 648.9,36.2 666.9,30.1 676.0,27.5" fill="none" stroke="#1e1e1e" stroke-width="0.55" opacity="0.75"/>
<polyline points="549.0,109.0 550.6,98.6 553.3,93.9 559.8,87.5 563.5,87.2 574.6,77.0 582.0,68.4 600.6,58.1 625.0,47.7 648.9,39.0 666.9,30.9 676.0,27.5" fill="none" stroke="#1e1e1e" stroke-width="0.55" opacity="0.75"/>
<polyline points="549.0,109.0 550.6,96.3 553.3,91.6 559.8,87.2 563.5,84.4 574.6,74.9 582.0,67.0 600.6,56.4 625.0,46.1 648.9,37.0 666.9,30.2 676.0,27.5" fill="none" stroke="#1e1e1e" stroke-width="0.55" opacity="0.75"/>
<polyline points="549.0,109.0 550.6,92.7 553.3,90.2 559.8,83.1 563.5,78.5 574.6,68.1 582.0,61.7 600.6,52.1 625.0,43.0 648.9,33.9 666.9,28.5 676.0,27.3" fill="none" stroke="#1e1e1e" stroke-width="0.55" opacity="0.75"/>
<polyline points="549.0,109.0 550.6,94.2 553.3,90.0 559.8,83.9 563.5,80.3 574.6,67.9 582.0,62.5 600.6,53.2 625.0,42.0 648.9,33.7 666.9,29.2 676.0,27.3" fill="none" stroke="#1e1e1e" stroke-width="0.55" opacity="0.75"/>
<polyline points="549.0,109.0 550.6,96.5 553.3,93.8 559.8,88.6 563.5,82.8 574.6,72.9 582.0,69.8 600.6,57.3 625.0,46.5 648.9,38.7 666.9,30.5 676.0,27.5" fill="none" stroke="#1e1e1e" stroke-width="0.55" opacity="0.75"/>
<polyline points="549.0,109.0 550.6,94.3 553.3,90.3 559.8,84.0 563.5,81.6 574.6,71.6 582.0,65.5 600.6,55.8 625.0,46.1 648.9,35.6 666.9,30.2 676.0,27.4" fill="none" stroke="#1e1e1e" stroke-width="0.55" opacity="0.75"/>
<polyline points="549.0,109.0 550.6,97.5 553.3,90.8 559.8,85.6 563.5,81.5 574.6,74.5 582.0,64.8 600.6,55.4 625.0,45.1 648.9,36.0 666.9,29.4 676.0,27.4" fill="none" stroke="#1e1e1e" stroke-width="0.55" opacity="0.75"/>
<polyline points="549.0,109.0 550.6,90.3 553.3,90.1 559.8,82.7 563.5,78.9 574.6,69.6 582.0,62.2 600.6,51.6 625.0,42.7 648.9,34.1 666.9,28.9 676.0,27.3" fill="none" stroke="#1e1e1e" stroke-width="0.55" opacity="0.75"/>
<polyline points="549.0,109.0 550.6,95.3 553.3,90.7 559.8,84.8 563.5,84.1 574.6,72.7 582.0,65.4 600.6,56.5 625.0,45.3 648.9,36.5 666.9,29.4 676.0,27.4" fill="none" stroke="#1e1e1e" stroke-width="0.55" opacity="0.75"/>
<polyline points="549.0,109.0 550.6,91.4 553.3,90.3 559.8,83.5 563.5,77.9 574.6,68.4 582.0,63.9 600.6,52.2 625.0,44.8 648.9,34.3 666.9,28.5 676.0,27.4" fill="none" stroke="#1e1e1e" stroke-width="0.55" opacity="0.75"/>
<polyline points="549.0,109.0 550.6,95.3 553.3,93.0 559.8,86.2 563.5,82.4 574.6,74.3 582.0,67.4 600.6,57.2 625.0,46.7 648.9,36.6 666.9,30.3 676.0,27.4" fill="none" stroke="#1e1e1e" stroke-width="0.55" opacity="0.75"/>
<polyline points="549.0,109.0 550.6,94.9 553.3,90.6 559.8,83.7 563.5,79.6 574.6,68.8 582.0,62.8 600.6,53.7 625.0,44.7 648.9,35.5 666.9,29.2 676.0,27.4" fill="none" stroke="#1e1e1e" stroke-width="0.55" opacity="0.75"/>
<polyline points="549.0,109.0 550.6,89.9 553.3,88.7 559.8,81.9 563.5,78.1 574.6,62.2 582.0,63.0 600.6,51.6 625.0,43.7 648.9,33.6 666.9,28.5 676.0,27.3" fill="none" stroke="#1e1e1e" stroke-width="0.55" opacity="0.75"/>
<polyline points="549.0,109.0 550.6,98.1 553.3,93.8 559.8,89.5 563.5,87.2 574.6,77.0 582.0,69.5 600.6,59.2 625.0,48.7 648.9,38.5 666.9,31.0 676.0,27.6" fill="none" stroke="#1e1e1e" stroke-width="0.55" opacity="0.75"/>
<polyline points="549.0,109.0 550.6,90.1 553.3,87.5 559.8,79.8 563.5,77.5 574.6,64.3 582.0,58.8 600.6,51.2 625.0,40.0 648.9,32.1 666.9,27.9 676.0,27.2" fill="none" stroke="#1e1e1e" stroke-width="0.55" opacity="0.75"/>
<polyline points="549.0,109.0 550.6,97.0 553.3,90.8 559.8,86.5 563.5,82.5 574.6,71.9 582.0,66.8 600.6,57.5 625.0,46.4 648.9,37.9 666.9,29.8 676.0,27.5" fill="none" stroke="#1e1e1e" stroke-width="0.55" opacity="0.75"/>
<polyline points="549.0,109.0 550.6,92.4 553.3,89.2 559.8,83.3 563.5,78.4 574.6,65.2 582.0,61.1 600.6,51.3 625.0,43.0 648.9,33.9 666.9,28.5 676.0,27.4" fill="none" stroke="#1e1e1e" stroke-width="0.55" opacity="0.75"/>
<polyline points="549.0,109.0 550.6,95.2 553.3,91.7 559.8,84.7 563.5,81.9 574.6,69.6 582.0,65.9 600.6,53.7 625.0,44.5 648.9,35.4 666.9,29.7 676.0,27.4" fill="none" stroke="#1e1e1e" stroke-width="0.55" opacity="0.75"/>
<polyline points="549.0,109.0 550.6,98.2 553.3,92.9 559.8,88.3 563.5,84.5 574.6,75.9 582.0,67.8 600.6,58.3 625.0,48.7 648.9,38.6 666.9,30.1 676.0,27.5" fill="none" stroke="#1e1e1e" stroke-width="0.55" opacity="0.75"/>
<polyline points="549.0,109.0 550.6,92.5 553.3,89.5 559.8,83.4 563.5,80.8 574.6,67.3 582.0,64.0 600.6,53.8 625.0,44.1 648.9,34.9 666.9,29.4 676.0,27.3" fill="none" stroke="#1e1e1e" stroke-width="0.55" opacity="0.75"/>
<polyline points="549.0,109.0 550.6,96.6 553.3,93.5 559.8,86.4 563.5,83.5 574.6,74.1 582.0,68.2 600.6,57.3 625.0,47.5 648.9,37.8 666.9,29.7 676.0,27.6" fill="none" stroke="#1e1e1e" stroke-width="0.55" opacity="0.75"/>
<polyline points="549.0,109.0 550.6,91.2 553.3,88.5 559.8,81.9 563.5,77.8 574.6,66.0 582.0,62.8 600.6,51.3 625.0,40.1 648.9,33.8 666.9,28.0 676.0,27.2" fill="none" stroke="#1e1e1e" stroke-width="0.55" opacity="0.75"/>
<polyline points="549.0,108.8 550.6,103.0 553.3,91.9 559.8,86.0 563.5,83.5 574.6,74.5 582.0,67.8 600.6,57.6 625.0,44.6 648.9,35.5 666.9,29.5 676.0,27.5" fill="none" stroke="#2a2aa8" stroke-width="2.1" stroke-linejoin="round" stroke-linecap="round"/>
<text x="560.1" y="141.7" font-size="11.5" text-anchor="start" fill="#3a3a3a" font-weight="normal" textLength="108.5" lengthAdjust="spacingAndGlyphs">Imipenem tolerance</text>
<path d="M546,143.4 V233.3 H684" fill="none" stroke="#8a8a8a" stroke-width="1"/>
<text x="539.8" y="151.5" font-size="10" text-anchor="end" fill="#3a3a3a" font-weight="normal">1.0</text>
<text x="539.8" y="194.9" font-size="10" text-anchor="end" fill="#3a3a3a" font-weight="normal">0.5</text>
<text x="539.8" y="233.6" font-size="10" text-anchor="end" fill="#3a3a3a" font-weight="normal">0</text>
<text x="600.2" y="220.2" font-size="11.5" text-anchor="start" fill="#3a3a3a" font-weight="normal" textLength="83.4" lengthAdjust="spacingAndGlyphs">0.68 (0.65–0.71)</text>
<text transform="translate(515.6,234.2) rotate(-90)" font-size="10.8" text-anchor="start" fill="#3a3a3a" font-weight="normal" textLength="91.5" lengthAdjust="spacingAndGlyphs">True positive rate</text>
<line x1="549" y1="231.0" x2="676" y2="149.4" stroke="#c6c6c6" stroke-width="1.5" stroke-dasharray="6.5 4.2" stroke-dashoffset="-0.6"/>
<polygon points="549.0,230.0 550.3,216.0 555.4,205.0 558.0,201.0 565.7,190.0 573.4,184.0 578.6,181.0 591.4,175.0 604.3,166.0 620.0,163.0 630.9,158.0 646.3,154.0 658.6,151.0 664.8,150.0 676.0,148.3 676.0,148.8 664.8,155.5 658.6,158.0 646.3,163.0 630.9,170.0 620.0,175.0 604.3,183.0 591.4,192.0 578.6,200.0 573.4,206.0 565.7,212.0 558.0,217.0 555.4,219.0 550.3,224.0 549.0,230.0" fill="#cdc9ef"/>
<polyline points="549.0,230.0 550.3,209.8 555.2,209.8 555.2,200.5 559.4,200.5 559.4,198.7 562.0,198.7 562.0,195.5 566.5,195.5 566.5,192.9 570.9,192.9 570.9,189.8 577.1,189.8 577.1,187.7 582.4,187.7 582.4,184.7 589.2,184.7 589.2,178.8 596.1,178.8 596.1,176.3 598.8,176.3 598.8,176.1 601.9,176.1 601.9,173.9 605.0,173.9 605.0,171.9 608.3,171.9 608.3,173.0 613.4,173.0 613.4,170.4 618.4,170.4 618.4,168.4 621.2,168.4 621.2,167.0 626.7,167.0 626.7,164.9 631.1,164.9 631.1,162.5 635.7,162.5 635.7,162.1 639.5,162.1 639.5,161.1 643.1,161.1 643.1,158.1 648.2,158.1 648.2,154.6 654.0,154.6 654.0,152.9 657.8,152.9 657.8,152.2 662.2,152.2 662.2,150.8 668.1,150.8 668.1,150.1 670.8,150.1 670.8,149.2 676.0,149.2 676.0,148.5" fill="none" stroke="#1a1a1a" stroke-width="0.6" opacity="0.58"/>
<polyline points="549.0,230.0 550.3,215.7 555.9,215.7 555.9,207.4 561.1,207.4 561.1,199.1 567.4,199.1 567.4,192.6 574.1,192.6 574.1,185.8 576.9,185.8 576.9,184.1 582.6,184.1 582.6,176.8 588.8,176.8 588.8,173.7 592.5,173.7 592.5,172.6 595.1,172.6 595.1,172.9 599.7,172.9 599.7,172.1 602.5,172.1 602.5,171.3 608.4,171.3 608.4,170.6 612.7,170.6 612.7,169.7 619.1,169.7 619.1,168.6 624.1,168.6 624.1,166.3 630.6,166.3 630.6,164.8 634.3,164.8 634.3,161.6 638.7,161.6 638.7,158.3 645.5,158.3 645.5,158.0 648.7,158.0 648.7,157.2 652.2,157.2 652.2,156.4 656.9,156.4 656.9,154.6 659.4,154.6 659.4,153.3 663.8,153.3 663.8,151.1 670.6,151.1 670.6,149.4 676.0,149.4 676.0,148.5" fill="none" stroke="#1a1a1a" stroke-width="0.6" opacity="0.58"/>
<polyline points="549.0,230.0 550.3,212.4 556.8,212.4 556.8,203.2 562.9,203.2 562.9,200.9 567.1,200.9 567.1,194.3 571.4,194.3 571.4,194.9 574.2,194.9 574.2,195.4 577.0,195.4 577.0,193.5 581.0,193.5 581.0,192.1 583.8,192.1 583.8,190.9 586.7,190.9 586.7,187.8 590.9,187.8 590.9,185.5 596.1,185.5 596.1,183.8 599.3,183.8 599.3,182.3 603.4,182.3 603.4,180.9 606.5,180.9 606.5,179.0 611.1,179.0 611.1,173.5 615.8,173.5 615.8,172.2 619.8,172.2 619.8,170.7 623.5,170.7 623.5,169.4 626.1,169.4 626.1,166.6 632.9,166.6 632.9,163.7 637.8,163.7 637.8,162.1 640.4,162.1 640.4,157.9 646.8,157.9 646.8,155.5 652.5,155.5 652.5,154.1 655.7,154.1 655.7,153.5 661.7,153.5 661.7,150.9 665.7,150.9 665.7,149.9 669.2,149.9 669.2,149.2 675.5,149.2 675.5,148.2 676.0,148.2 676.0,148.5" fill="none" stroke="#1a1a1a" stroke-width="0.6" opacity="0.58"/>
<polyline points="549.0,230.0 550.3,217.5 554.4,217.5 554.4,215.0 557.0,215.0 557.0,212.8 560.7,212.8 560.7,208.8 566.3,208.8 566.3,204.2 573.0,204.2 573.0,198.7 580.0,198.7 580.0,195.1 583.5,195.1 583.5,191.4 587.0,191.4 587.0,187.8 592.3,187.8 592.3,184.7 598.8,184.7 598.8,182.3 604.3,182.3 604.3,178.3 610.4,178.3 610.4,176.5 617.0,176.5 617.0,173.4 623.0,173.4 623.0,171.1 626.3,171.1 626.3,167.7 632.4,167.7 632.4,164.2 639.2,164.2 639.2,163.5 643.5,163.5 643.5,159.7 649.3,159.7 649.3,159.4 652.5,159.4 652.5,158.0 659.1,158.0 659.1,156.1 665.2,156.1 665.2,153.1 672.1,153.1 672.1,149.5 676.0,149.5 676.0,148.5" fill="none" stroke="#1a1a1a" stroke-width="0.6" opacity="0.58"/>
<polyline points="549.0,230.0 550.3,211.1 557.2,211.1 557.2,202.6 562.6,202.6 562.6,191.2 567.0,191.2 567.0,185.9 573.5,185.9 573.5,183.6 577.1,183.6 577.1,180.2 580.9,180.2 580.9,178.7 584.6,178.7 584.6,179.5 589.0,179.5 589.0,179.7 593.1,179.7 593.1,180.7 597.6,180.7 597.6,175.9 602.0,175.9 602.0,172.3 608.6,172.3 608.6,169.0 613.5,169.0 613.5,168.0 616.1,168.0 616.1,166.7 618.6,166.7 618.6,165.6 624.7,165.6 624.7,163.3 630.5,163.3 630.5,161.9 635.5,161.9 635.5,159.5 640.5,159.5 640.5,158.5 646.5,158.5 646.5,157.7 650.1,157.7 650.1,157.2 653.9,157.2 653.9,155.9 658.9,155.9 658.9,153.3 664.8,153.3 664.8,152.0 670.1,152.0 670.1,149.8 674.8,149.8 674.8,148.4 676.0,148.4 676.0,148.5" fill="none" stroke="#1a1a1a" stroke-width="0.6" opacity="0.58"/>
<polyline points="549.0,230.0 550.3,211.5 557.0,211.5 557.0,200.7 563.8,200.7 563.8,189.6 567.4,189.6 567.4,182.9 573.7,182.9 573.7,180.1 576.8,180.1 576.8,180.7 579.7,180.7 579.7,181.0 583.3,181.0 583.3,181.3 589.3,181.3 589.3,178.9 595.8,178.9 595.8,178.1 601.3,178.1 601.3,178.6 604.4,178.6 604.4,180.2 607.9,180.2 607.9,175.4 614.7,175.4 614.7,171.4 621.7,171.4 621.7,169.0 627.9,169.0 627.9,166.9 632.7,166.9 632.7,166.0 636.8,166.0 636.8,164.4 642.5,164.4 642.5,163.0 645.1,163.0 645.1,161.0 647.7,161.0 647.7,159.6 651.7,159.6 651.7,157.7 654.5,157.7 654.5,155.3 661.4,155.3 661.4,154.3 664.4,154.3 664.4,151.4 668.1,151.4 668.1,151.0 671.8,151.0 671.8,149.7 674.9,149.7 674.9,148.4 676.0,148.4 676.0,148.5" fill="none" stroke="#1a1a1a" stroke-width="0.6" opacity="0.58"/>
<polyline points="549.0,230.0 550.3,209.7 556.9,209.7 556.9,198.7 559.8,198.7 559.8,193.6 562.6,193.6 562.6,188.9 565.4,188.9 565.4,184.2 572.1,184.2 572.1,180.9 575.0,180.9 575.0,178.8 581.4,178.8 581.4,180.5 585.9,180.5 585.9,179.8 589.9,179.8 589.9,174.1 593.6,174.1 593.6,172.1 596.7,172.1 596.7,171.1 599.7,171.1 599.7,170.0 603.0,170.0 603.0,169.9 606.9,169.9 606.9,169.3 610.7,169.3 610.7,168.3 615.5,168.3 615.5,166.4 618.8,166.4 618.8,165.4 622.4,165.4 622.4,164.1 625.0,164.1 625.0,162.5 628.3,162.5 628.3,160.6 633.0,160.6 633.0,159.1 639.1,159.1 639.1,157.0 643.6,157.0 643.6,155.2 647.9,155.2 647.9,153.9 652.6,153.9 652.6,152.6 656.7,152.6 656.7,151.2 662.9,151.2 662.9,150.0 667.3,150.0 667.3,149.3 671.3,149.3 671.3,148.9 674.1,148.9 674.1,148.3 676.0,148.3 676.0,148.5" fill="none" stroke="#1a1a1a" stroke-width="0.6" opacity="0.58"/>
<polyline points="549.0,230.0 550.3,211.0 556.7,211.0 556.7,204.3 562.2,204.3 562.2,198.9 566.1,198.9 566.1,197.4 570.6,197.4 570.6,196.2 574.3,196.2 574.3,195.1 581.1,195.1 581.1,193.7 584.7,193.7 584.7,188.6 591.6,188.6 591.6,184.6 594.1,184.6 594.1,184.4 598.3,184.4 598.3,181.0 601.7,181.0 601.7,179.7 606.5,179.7 606.5,179.1 609.4,179.1 609.4,177.4 613.7,177.4 613.7,175.6 617.5,175.6 617.5,173.7 621.1,173.7 621.1,170.4 627.0,170.4 627.0,166.9 632.4,166.9 632.4,164.5 636.7,164.5 636.7,161.1 640.7,161.1 640.7,159.8 646.4,159.8 646.4,157.8 651.8,157.8 651.8,157.3 658.3,157.3 658.3,155.7 663.6,155.7 663.6,154.2 666.8,154.2 666.8,151.3 671.6,151.3 671.6,148.8 676.0,148.8 676.0,148.5" fill="none" stroke="#1a1a1a" stroke-width="0.6" opacity="0.58"/>
<polyline points="549.0,230.0 550.3,214.4 556.8,214.4 556.8,206.4 560.4,206.4 560.4,199.8 563.0,199.8 563.0,198.3 566.0,198.3 566.0,196.5 572.2,196.5 572.2,189.2 577.5,189.2 577.5,184.8 583.1,184.8 583.1,181.2 589.2,181.2 589.2,177.8 595.1,177.8 595.1,173.7 600.5,173.7 600.5,172.2 603.3,172.2 603.3,171.2 606.2,171.2 606.2,169.2 609.9,169.2 609.9,168.0 615.7,168.0 615.7,165.9 622.6,165.9 622.6,163.4 627.2,163.4 627.2,161.0 632.8,161.0 632.8,159.0 638.2,159.0 638.2,157.4 641.1,157.4 641.1,156.3 646.9,156.3 646.9,155.2 650.8,155.2 650.8,154.1 653.5,154.1 653.5,153.1 657.2,153.1 657.2,151.3 662.8,151.3 662.8,150.0 666.6,150.0 666.6,149.3 671.2,149.3 671.2,148.7 674.2,148.7 674.2,148.2 676.0,148.2 676.0,148.5" fill="none" stroke="#1a1a1a" stroke-width="0.6" opacity="0.58"/>
<polyline points="549.0,230.0 550.3,212.7 554.9,212.7 554.9,207.3 559.4,207.3 559.4,197.1 563.1,197.1 563.1,194.3 566.5,194.3 566.5,197.2 571.7,197.2 571.7,195.3 578.4,195.3 578.4,194.2 581.5,194.2 581.5,191.2 588.0,191.2 588.0,184.0 593.7,184.0 593.7,182.2 598.4,182.2 598.4,183.0 601.0,183.0 601.0,181.6 605.5,181.6 605.5,179.6 609.4,179.6 609.4,177.7 613.3,177.7 613.3,175.2 619.6,175.2 619.6,172.0 625.9,172.0 625.9,169.7 628.9,169.7 628.9,167.5 635.5,167.5 635.5,164.8 639.3,164.8 639.3,162.1 646.3,162.1 646.3,160.5 651.4,160.5 651.4,158.3 655.2,158.3 655.2,157.8 657.9,157.8 657.9,157.1 661.7,157.1 661.7,155.3 668.4,155.3 668.4,151.9 673.2,151.9 673.2,149.5 676.0,149.5 676.0,148.5" fill="none" stroke="#1a1a1a" stroke-width="0.6" opacity="0.58"/>
<polyline points="549.0,230.0 550.3,217.1 555.6,217.1 555.6,207.2 562.2,207.2 562.2,204.1 568.0,204.1 568.0,199.8 570.7,199.8 570.7,196.6 576.6,196.6 576.6,190.1 582.0,190.1 582.0,185.6 588.7,185.6 588.7,182.7 591.7,182.7 591.7,179.4 595.6,179.4 595.6,177.9 601.4,177.9 601.4,177.0 606.9,177.0 606.9,175.0 610.7,175.0 610.7,172.4 614.0,172.4 614.0,170.9 617.2,170.9 617.2,170.1 621.9,170.1 621.9,170.2 625.4,170.2 625.4,169.6 629.9,169.6 629.9,165.9 633.1,165.9 633.1,164.7 637.1,164.7 637.1,163.8 640.0,163.8 640.0,162.3 645.1,162.3 645.1,160.8 651.6,160.8 651.6,158.9 655.9,158.9 655.9,156.4 660.8,156.4 660.8,154.7 663.6,154.7 663.6,154.0 667.3,154.0 667.3,152.1 672.1,152.1 672.1,149.4 676.0,149.4 676.0,148.5" fill="none" stroke="#1a1a1a" stroke-width="0.6" opacity="0.58"/>
<polyline points="549.0,230.0 550.3,214.2 554.6,214.2 554.6,208.6 559.1,208.6 559.1,207.3 565.5,207.3 565.5,201.9 568.1,201.9 568.1,202.9 574.7,202.9 574.7,199.2 579.3,199.2 579.3,195.4 583.6,195.4 583.6,190.4 590.2,190.4 590.2,185.4 597.1,185.4 597.1,180.5 600.7,180.5 600.7,179.6 605.6,179.6 605.6,177.8 611.1,177.8 611.1,176.5 616.6,176.5 616.6,173.1 622.5,173.1 622.5,169.7 625.2,169.7 625.2,167.9 631.2,167.9 631.2,165.7 636.6,165.7 636.6,165.0 640.5,165.0 640.5,163.2 645.8,163.2 645.8,161.1 651.5,161.1 651.5,159.2 656.3,159.2 656.3,157.4 661.5,157.4 661.5,155.3 666.7,155.3 666.7,153.5 669.2,153.5 669.2,150.7 676.0,150.7 676.0,148.5" fill="none" stroke="#1a1a1a" stroke-width="0.6" opacity="0.58"/>
<polyline points="549.0,230.0 550.3,218.3 554.9,218.3 554.9,211.7 561.8,211.7 561.8,207.8 567.4,207.8 567.4,203.9 572.2,203.9 572.2,200.6 577.7,200.6 577.7,194.7 583.2,194.7 583.2,190.1 589.9,190.1 589.9,185.7 593.9,185.7 593.9,184.4 598.3,184.4 598.3,181.9 604.4,181.9 604.4,178.4 610.2,178.4 610.2,174.6 617.1,174.6 617.1,172.2 621.0,172.2 621.0,170.8 624.5,170.8 624.5,167.8 630.4,167.8 630.4,164.7 635.1,164.7 635.1,165.5 638.5,165.5 638.5,163.9 644.0,163.9 644.0,161.6 650.7,161.6 650.7,159.7 654.2,159.7 654.2,157.9 661.1,157.9 661.1,156.2 663.8,156.2 663.8,154.7 668.1,154.7 668.1,151.7 673.9,151.7 673.9,148.7 676.0,148.7 676.0,148.5" fill="none" stroke="#1a1a1a" stroke-width="0.6" opacity="0.58"/>
<polyline points="549.0,230.0 550.3,215.6 556.2,215.6 556.2,214.0 558.8,214.0 558.8,209.8 563.0,209.8 563.0,204.0 567.0,204.0 567.0,201.3 570.7,201.3 570.7,198.8 574.8,198.8 574.8,196.4 581.7,196.4 581.7,191.7 585.1,191.7 585.1,185.4 591.3,185.4 591.3,184.5 595.7,184.5 595.7,183.8 599.9,183.8 599.9,181.6 606.6,181.6 606.6,178.5 613.1,178.5 613.1,176.2 615.7,176.2 615.7,172.4 621.7,172.4 621.7,171.3 624.4,171.3 624.4,169.4 631.0,169.4 631.0,167.1 634.7,167.1 634.7,165.6 638.7,165.6 638.7,162.1 642.4,162.1 642.4,161.9 646.1,161.9 646.1,159.8 651.8,159.8 651.8,158.1 654.3,158.1 654.3,157.2 660.2,157.2 660.2,155.8 667.0,155.8 667.0,153.0 669.6,153.0 669.6,150.4 676.0,150.4 676.0,148.5" fill="none" stroke="#1a1a1a" stroke-width="0.6" opacity="0.58"/>
<polyline points="549.0,230.0 550.3,218.0 553.9,218.0 553.9,209.0 560.6,209.0 560.6,205.0 563.9,205.0 563.9,202.2 570.1,202.2 570.1,193.9 576.1,193.9 576.1,189.0 580.0,189.0 580.0,185.1 584.2,185.1 584.2,182.9 587.6,182.9 587.6,179.2 593.5,179.2 593.5,177.4 596.1,177.4 596.1,176.7 601.1,176.7 601.1,172.5 607.6,172.5 607.6,173.9 614.5,173.9 614.5,171.9 617.4,171.9 617.4,170.9 622.2,170.9 622.2,168.6 625.7,168.6 625.7,165.6 630.1,165.6 630.1,162.3 636.0,162.3 636.0,159.1 642.3,159.1 642.3,156.6 648.6,156.6 648.6,154.6 652.4,154.6 652.4,152.5 658.2,152.5 658.2,151.2 661.6,151.2 661.6,150.4 664.8,150.4 664.8,149.9 671.3,149.9 671.3,148.6 675.6,148.6 675.6,148.2 676.0,148.2 676.0,148.5" fill="none" stroke="#1a1a1a" stroke-width="0.6" opacity="0.58"/>
<polyline points="549.0,230.0 550.3,210.6 557.3,210.6 557.3,200.1 560.2,200.1 560.2,189.9 566.5,189.9 566.5,184.7 573.1,184.7 573.1,183.8 576.2,183.8 576.2,182.7 579.5,182.7 579.5,183.1 586.2,183.1 586.2,179.5 590.4,179.5 590.4,178.6 594.0,178.6 594.0,175.5 600.0,175.5 600.0,174.2 605.2,174.2 605.2,172.3 610.5,172.3 610.5,171.2 613.6,171.2 613.6,171.3 617.1,171.3 617.1,169.6 622.5,169.6 622.5,168.9 625.9,168.9 625.9,167.5 631.5,167.5 631.5,165.7 634.8,165.7 634.8,163.6 640.9,163.6 640.9,162.1 645.8,162.1 645.8,160.7 650.1,160.7 650.1,159.2 655.1,159.2 655.1,157.5 658.3,157.5 658.3,155.8 664.0,155.8 664.0,153.6 667.8,153.6 667.8,151.1 674.6,151.1 674.6,148.7 676.0,148.7 676.0,148.5" fill="none" stroke="#1a1a1a" stroke-width="0.6" opacity="0.58"/>
<polyline points="549.0,230.0 550.3,215.3 557.3,215.3 557.3,207.0 563.1,207.0 563.1,203.8 566.5,203.8 566.5,204.9 570.9,204.9 570.9,201.3 577.1,201.3 577.1,193.0 581.7,193.0 581.7,192.5 584.9,192.5 584.9,189.8 590.3,189.8 590.3,185.4 596.9,185.4 596.9,183.3 601.0,183.3 601.0,181.6 605.8,181.6 605.8,179.3 610.6,179.3 610.6,176.4 617.3,176.4 617.3,173.2 623.4,173.2 623.4,170.0 630.3,170.0 630.3,166.9 637.0,166.9 637.0,164.3 643.9,164.3 643.9,161.4 650.6,161.4 650.6,159.4 654.8,159.4 654.8,157.7 661.0,157.7 661.0,155.6 664.3,155.6 664.3,154.1 668.6,154.1 668.6,150.9 674.9,150.9 674.9,148.7 676.0,148.7 676.0,148.5" fill="none" stroke="#1a1a1a" stroke-width="0.6" opacity="0.58"/>
<polyline points="549.0,230.0 550.3,212.6 554.5,212.6 554.5,205.1 560.3,205.1 560.3,199.4 566.8,199.4 566.8,197.7 572.7,197.7 572.7,195.7 575.4,195.7 575.4,193.8 580.6,193.8 580.6,188.9 585.6,188.9 585.6,184.2 590.0,184.2 590.0,180.1 595.1,180.1 595.1,176.2 599.6,176.2 599.6,175.6 604.1,175.6 604.1,176.0 608.8,176.0 608.8,174.7 612.3,174.7 612.3,173.2 616.9,173.2 616.9,169.8 620.2,169.8 620.2,168.0 623.3,168.0 623.3,166.2 627.7,166.2 627.7,164.9 632.5,164.9 632.5,163.9 635.2,163.9 635.2,162.1 641.0,162.1 641.0,159.6 647.0,159.6 647.0,157.4 651.8,157.4 651.8,156.0 656.0,156.0 656.0,154.7 662.3,154.7 662.3,152.5 669.3,152.5 669.3,150.4 672.7,150.4 672.7,148.4 676.0,148.4 676.0,148.5" fill="none" stroke="#1a1a1a" stroke-width="0.6" opacity="0.58"/>
<polyline points="549.0,230.0 550.3,215.9 556.3,215.9 556.3,207.7 563.0,207.7 563.0,203.9 568.9,203.9 568.9,201.8 572.2,201.8 572.2,200.3 578.3,200.3 578.3,195.5 581.5,195.5 581.5,187.7 584.9,187.7 584.9,185.0 588.6,185.0 588.6,181.1 591.3,181.1 591.3,179.5 594.6,179.5 594.6,179.9 600.1,179.9 600.1,180.8 606.7,180.8 606.7,179.3 609.7,179.3 609.7,177.3 614.6,177.3 614.6,173.8 621.0,173.8 621.0,170.3 626.0,170.3 626.0,166.6 629.0,166.6 629.0,163.4 635.9,163.4 635.9,160.3 642.0,160.3 642.0,157.8 645.7,157.8 645.7,157.7 649.8,157.7 649.8,156.0 655.8,156.0 655.8,153.6 661.6,153.6 661.6,152.6 664.3,152.6 664.3,151.6 669.7,151.6 669.7,149.3 676.0,149.3 676.0,148.5" fill="none" stroke="#1a1a1a" stroke-width="0.6" opacity="0.58"/>
<polyline points="549.0,230.0 550.3,216.7 553.0,216.7 553.0,211.9 556.1,211.9 556.1,204.9 560.9,204.9 560.9,196.9 567.5,196.9 567.5,193.5 572.9,193.5 572.9,192.2 575.5,192.2 575.5,193.0 578.5,193.0 578.5,190.5 582.6,190.5 582.6,187.5 587.7,187.5 587.7,186.5 591.2,186.5 591.2,183.0 594.3,183.0 594.3,179.8 601.0,179.8 601.0,178.0 603.9,178.0 603.9,177.2 609.3,177.2 609.3,176.8 613.6,176.8 613.6,173.4 617.3,173.4 617.3,173.0 622.3,173.0 622.3,170.8 626.4,170.8 626.4,167.5 633.1,167.5 633.1,164.2 638.9,164.2 638.9,162.6 641.6,162.6 641.6,162.9 646.5,162.9 646.5,160.9 649.3,160.9 649.3,159.6 655.3,159.6 655.3,157.5 662.0,157.5 662.0,155.8 665.1,155.8 665.1,153.8 669.9,153.8 669.9,150.8 675.3,150.8 675.3,148.8 676.0,148.8 676.0,148.5" fill="none" stroke="#1a1a1a" stroke-width="0.6" opacity="0.58"/>
<polyline points="549.0,230.0 550.3,206.7 556.8,206.7 556.8,198.9 559.3,198.9 559.3,190.6 565.6,190.6 565.6,184.3 571.5,184.3 571.5,180.8 576.0,180.8 576.0,179.2 579.6,179.2 579.6,178.9 582.2,178.9 582.2,176.0 587.9,176.0 587.9,176.0 594.2,176.0 594.2,173.6 599.1,173.6 599.1,170.8 603.6,170.8 603.6,169.9 607.3,169.9 607.3,167.8 612.7,167.8 612.7,167.3 619.2,167.3 619.2,166.0 621.7,166.0 621.7,164.0 627.6,164.0 627.6,161.7 634.3,161.7 634.3,159.3 640.8,159.3 640.8,156.5 644.8,156.5 644.8,155.1 650.1,155.1 650.1,155.3 655.7,155.3 655.7,152.6 660.3,152.6 660.3,150.3 666.6,150.3 666.6,149.4 671.1,149.4 671.1,148.5 676.0,148.5 676.0,148.5" fill="none" stroke="#1a1a1a" stroke-width="0.6" opacity="0.58"/>
<polyline points="549.0,230.0 550.3,215.0 553.2,215.0 553.2,209.6 559.7,209.6 559.7,204.8 562.7,204.8 562.7,200.5 569.4,200.5 569.4,196.5 572.0,196.5 572.0,195.9 574.7,195.9 574.7,192.0 580.4,192.0 580.4,184.9 586.2,184.9 586.2,184.0 590.3,184.0 590.3,181.8 596.5,181.8 596.5,181.6 599.3,181.6 599.3,176.7 605.7,176.7 605.7,178.0 608.7,178.0 608.7,174.9 612.1,174.9 612.1,173.2 618.4,173.2 618.4,170.6 624.6,170.6 624.6,166.6 629.9,166.6 629.9,163.1 633.7,163.1 633.7,161.7 639.6,161.7 639.6,160.2 643.0,160.2 643.0,158.7 645.6,158.7 645.6,158.4 649.3,158.4 649.3,156.9 653.4,156.9 653.4,156.8 657.4,156.8 657.4,156.0 663.7,156.0 663.7,153.6 669.0,153.6 669.0,151.5 673.5,151.5 673.5,148.8 676.0,148.8 676.0,148.5" fill="none" stroke="#1a1a1a" stroke-width="0.6" opacity="0.58"/>
<polyline points="549.0,230.0 550.3,211.2 556.7,211.2 556.7,203.5 559.6,203.5 559.6,201.0 562.1,201.0 562.1,196.3 565.5,196.3 565.5,193.9 568.0,193.9 568.0,184.1 572.7,184.1 572.7,180.5 576.1,180.5 576.1,178.9 580.8,178.9 580.8,177.0 584.5,177.0 584.5,177.8 591.2,177.8 591.2,174.8 596.9,174.8 596.9,174.1 601.6,174.1 601.6,174.5 604.5,174.5 604.5,174.3 610.5,174.3 610.5,171.5 615.8,171.5 615.8,168.1 619.9,168.1 619.9,165.2 626.4,165.2 626.4,163.5 629.3,163.5 629.3,162.2 632.8,162.2 632.8,160.8 636.4,160.8 636.4,160.2 640.6,160.2 640.6,157.6 647.1,157.6 647.1,155.8 652.0,155.8 652.0,155.1 657.9,155.1 657.9,153.6 662.0,153.6 662.0,151.4 666.0,151.4 666.0,150.7 671.4,150.7 671.4,149.2 676.0,149.2 676.0,148.5" fill="none" stroke="#1a1a1a" stroke-width="0.6" opacity="0.58"/>
<polyline points="549.0,230.0 550.3,213.2 553.4,213.2 553.4,203.0 557.9,203.0 557.9,198.5 561.3,198.5 561.3,192.9 565.2,192.9 565.2,187.5 568.4,187.5 568.4,183.4 571.6,183.4 571.6,180.8 576.4,180.8 576.4,181.2 579.6,181.2 579.6,178.1 586.5,178.1 586.5,176.3 592.3,176.3 592.3,177.9 595.3,177.9 595.3,179.1 599.5,179.1 599.5,180.1 605.3,180.1 605.3,177.6 609.7,177.6 609.7,176.6 612.7,176.6 612.7,176.2 616.2,176.2 616.2,174.0 620.5,174.0 620.5,171.6 626.5,171.6 626.5,168.4 631.9,168.4 631.9,165.2 636.4,165.2 636.4,164.3 640.8,164.3 640.8,163.0 646.6,163.0 646.6,161.0 651.7,161.0 651.7,158.5 657.6,158.5 657.6,156.0 663.3,156.0 663.3,153.9 669.8,153.9 669.8,150.5 676.0,150.5 676.0,148.5" fill="none" stroke="#1a1a1a" stroke-width="0.6" opacity="0.58"/>
<polyline points="549.0,230.0 550.3,213.2 554.8,213.2 554.8,205.6 557.8,205.6 557.8,203.9 562.2,203.9 562.2,199.6 567.5,199.6 567.5,192.1 571.1,192.1 571.1,186.4 576.4,186.4 576.4,185.2 580.8,185.2 580.8,180.6 584.1,180.6 584.1,175.3 589.5,175.3 589.5,173.5 594.2,173.5 594.2,171.3 601.1,171.3 601.1,171.5 604.4,171.5 604.4,170.6 610.4,170.6 610.4,170.9 613.3,170.9 613.3,169.1 618.4,169.1 618.4,166.0 623.2,166.0 623.2,163.1 628.6,163.1 628.6,161.4 632.9,161.4 632.9,158.6 639.7,158.6 639.7,156.9 644.0,156.9 644.0,156.5 649.9,156.5 649.9,156.7 654.0,156.7 654.0,157.2 656.8,157.2 656.8,156.2 659.3,156.2 659.3,155.8 663.7,155.8 663.7,153.4 667.8,153.4 667.8,151.9 671.5,151.9 671.5,149.3 676.0,149.3 676.0,148.5" fill="none" stroke="#1a1a1a" stroke-width="0.6" opacity="0.58"/>
<polyline points="549.0,230.0 550.3,213.3 556.4,213.3 556.4,205.4 559.5,205.4 559.5,201.5 565.5,201.5 565.5,198.0 570.1,198.0 570.1,191.2 575.1,191.2 575.1,189.5 579.2,189.5 579.2,192.3 584.6,192.3 584.6,189.6 589.2,189.6 589.2,183.1 593.0,183.1 593.0,180.2 599.3,180.2 599.3,178.0 603.4,178.0 603.4,177.1 607.6,177.1 607.6,174.6 611.2,174.6 611.2,172.7 613.7,172.7 613.7,171.5 619.5,171.5 619.5,169.4 623.3,169.4 623.3,168.0 628.0,168.0 628.0,164.3 633.4,164.3 633.4,163.1 637.6,163.1 637.6,163.5 640.3,163.5 640.3,161.0 646.6,161.0 646.6,160.6 649.7,160.6 649.7,158.1 655.9,158.1 655.9,156.4 658.5,156.4 658.5,154.8 665.3,154.8 665.3,152.8 668.2,152.8 668.2,151.1 671.4,151.1 671.4,149.7 675.4,149.7 675.4,148.7 676.0,148.7 676.0,148.5" fill="none" stroke="#1a1a1a" stroke-width="0.6" opacity="0.58"/>
<polyline points="549.0,230.0 550.3,218.9 555.5,218.9 555.5,213.0 561.6,213.0 561.6,205.2 567.6,205.2 567.6,195.7 573.9,195.7 573.9,193.4 578.8,193.4 578.8,193.0 584.6,193.0 584.6,184.6 589.6,184.6 589.6,182.8 593.3,182.8 593.3,181.3 598.0,181.3 598.0,180.8 600.8,180.8 600.8,178.4 605.5,178.4 605.5,176.7 610.2,176.7 610.2,172.6 612.8,172.6 612.8,170.4 619.0,170.4 619.0,166.9 624.5,166.9 624.5,164.4 630.8,164.4 630.8,160.9 637.6,160.9 637.6,159.8 640.5,159.8 640.5,157.9 643.1,157.9 643.1,155.5 648.3,155.5 648.3,153.8 652.3,153.8 652.3,152.3 659.3,152.3 659.3,150.6 665.8,150.6 665.8,149.6 668.4,149.6 668.4,149.1 672.5,149.1 672.5,148.3 676.0,148.3 676.0,148.5" fill="none" stroke="#1a1a1a" stroke-width="0.6" opacity="0.58"/>
<polyline points="549.0,230.0 550.3,211.3 553.7,211.3 553.7,202.6 558.2,202.6 558.2,192.5 564.4,192.5 564.4,187.8 568.2,187.8 568.2,186.2 573.0,186.2 573.0,181.2 576.7,181.2 576.7,178.3 582.2,178.3 582.2,175.9 588.2,175.9 588.2,173.9 592.1,173.9 592.1,173.6 597.2,173.6 597.2,171.0 599.9,171.0 599.9,169.5 605.7,169.5 605.7,169.8 608.4,169.8 608.4,167.9 612.2,167.9 612.2,167.5 618.9,167.5 618.9,165.8 624.1,165.8 624.1,162.2 630.7,162.2 630.7,159.6 636.0,159.6 636.0,157.7 641.6,157.7 641.6,155.8 646.8,155.8 646.8,154.1 652.3,154.1 652.3,152.6 656.8,152.6 656.8,151.6 660.2,151.6 660.2,150.8 662.8,150.8 662.8,150.1 668.3,150.1 668.3,149.1 672.4,149.1 672.4,148.5 676.0,148.5 676.0,148.5" fill="none" stroke="#1a1a1a" stroke-width="0.6" opacity="0.58"/>
<polyline points="549.0,230.0 550.3,208.9 554.7,208.9 554.7,197.9 560.1,197.9 560.1,192.1 566.8,192.1 566.8,190.8 569.5,190.8 569.5,190.1 572.5,190.1 572.5,188.3 579.1,188.3 579.1,182.2 583.6,182.2 583.6,181.6 588.8,181.6 588.8,178.3 595.5,178.3 595.5,178.1 599.9,178.1 599.9,176.6 602.8,176.6 602.8,174.8 606.0,174.8 606.0,173.0 608.6,173.0 608.6,174.1 611.6,174.1 611.6,172.3 618.5,172.3 618.5,172.1 621.6,172.1 621.6,171.7 624.2,171.7 624.2,169.5 630.0,169.5 630.0,166.6 633.3,166.6 633.3,166.0 639.0,166.0 639.0,163.6 645.4,163.6 645.4,161.3 650.7,161.3 650.7,159.0 656.4,159.0 656.4,155.5 660.0,155.5 660.0,154.3 666.9,154.3 666.9,152.3 669.4,152.3 669.4,150.4 674.9,150.4 674.9,148.6 676.0,148.6 676.0,148.5" fill="none" stroke="#1a1a1a" stroke-width="0.6" opacity="0.58"/>
<polyline points="549.0,230.0 550.3,210.7 556.7,210.7 556.7,201.7 560.8,201.7 560.8,196.4 565.9,196.4 565.9,188.7 569.1,188.7 569.1,187.1 575.2,187.1 575.2,181.5 580.5,181.5 580.5,181.6 584.9,181.6 584.9,176.1 591.6,176.1 591.6,175.4 597.7,175.4 597.7,172.7 600.4,172.7 600.4,170.4 607.3,170.4 607.3,168.3 611.3,168.3 611.3,167.0 616.5,167.0 616.5,167.8 621.7,167.8 621.7,165.5 625.6,165.5 625.6,162.0 629.8,162.0 629.8,160.8 635.4,160.8 635.4,157.8 641.5,157.8 641.5,156.0 645.3,156.0 645.3,155.4 649.7,155.4 649.7,154.0 654.8,154.0 654.8,153.5 657.5,153.5 657.5,151.0 663.8,151.0 663.8,150.2 668.9,150.2 668.9,149.0 672.6,149.0 672.6,148.4 676.0,148.4 676.0,148.5" fill="none" stroke="#1a1a1a" stroke-width="0.6" opacity="0.58"/>
<polyline points="549.0,230.0 550.3,214.5 553.2,214.5 553.2,205.4 556.6,205.4 556.6,197.1 562.5,197.1 562.5,191.8 567.7,191.8 567.7,187.0 573.2,187.0 573.2,182.4 576.9,182.4 576.9,180.4 582.8,180.4 582.8,179.0 585.7,179.0 585.7,174.8 591.8,174.8 591.8,172.8 596.9,172.8 596.9,170.4 603.4,170.4 603.4,170.1 608.1,170.1 608.1,167.8 613.2,167.8 613.2,167.2 616.5,167.2 616.5,166.8 622.2,166.8 622.2,163.7 626.5,163.7 626.5,162.5 631.3,162.5 631.3,160.3 638.3,160.3 638.3,158.5 642.5,158.5 642.5,157.7 648.6,157.7 648.6,157.0 651.8,157.0 651.8,155.0 656.6,155.0 656.6,153.5 659.2,153.5 659.2,154.4 665.6,154.4 665.6,152.6 670.3,152.6 670.3,149.8 676.0,149.8 676.0,148.5" fill="none" stroke="#1a1a1a" stroke-width="0.6" opacity="0.58"/>
<polyline points="549.0,230.0 550.3,214.2 556.3,214.2 556.3,209.8 559.9,209.8 559.9,201.2 562.6,201.2 562.6,198.6 565.4,198.6 565.4,197.6 568.2,197.6 568.2,190.0 572.7,190.0 572.7,184.7 579.5,184.7 579.5,182.2 584.7,182.2 584.7,179.2 589.0,179.2 589.0,180.2 592.6,180.2 592.6,181.3 597.7,181.3 597.7,176.8 603.2,176.8 603.2,172.0 607.5,172.0 607.5,169.6 614.3,169.6 614.3,168.0 621.3,168.0 621.3,165.9 624.9,165.9 624.9,164.4 629.0,164.4 629.0,163.7 635.3,163.7 635.3,160.9 638.0,160.9 638.0,159.7 643.4,159.7 643.4,156.1 650.3,156.1 650.3,154.6 656.2,154.6 656.2,152.9 662.9,152.9 662.9,151.0 668.1,151.0 668.1,149.3 674.0,149.3 674.0,148.4 676.0,148.4 676.0,148.5" fill="none" stroke="#1a1a1a" stroke-width="0.6" opacity="0.58"/>
<polyline points="549.0,230.0 550.3,218.5 555.4,212.0 558.0,209.0 565.7,200.5 573.4,194.5 578.6,190.2 591.4,182.4 604.3,176.0 620.0,169.6 630.9,164.8 646.3,158.0 658.6,153.0 664.8,151.5 676.0,148.5" fill="none" stroke="#2a2aa8" stroke-width="2.1" stroke-linejoin="round" stroke-linecap="round"/>
<text x="546.9" y="263.5" font-size="11.5" text-anchor="start" fill="#3a3a3a" font-weight="normal" textLength="136.2" lengthAdjust="spacingAndGlyphs">Combined MIC/tolerance</text>
<path d="M546,268 V354.7 H684" fill="none" stroke="#8a8a8a" stroke-width="1"/>
<text x="539.8" y="273.2" font-size="10" text-anchor="end" fill="#3a3a3a" font-weight="normal">1.0</text>
<text x="539.8" y="315.8" font-size="10" text-anchor="end" fill="#3a3a3a" font-weight="normal">0.5</text>
<text x="539.8" y="354.3" font-size="10" text-anchor="end" fill="#3a3a3a" font-weight="normal">0</text>
<text x="598" y="339.7" font-size="11.5" text-anchor="start" fill="#3a3a3a" font-weight="normal" textLength="85.9" lengthAdjust="spacingAndGlyphs">0.78 (0.75–0.80)</text>
<text transform="translate(515.6,355) rotate(-90)" font-size="10.8" text-anchor="start" fill="#3a3a3a" font-weight="normal" textLength="87.8" lengthAdjust="spacingAndGlyphs">True positive rate</text>
<line x1="549" y1="351.7" x2="676" y2="271.1" stroke="#c6c6c6" stroke-width="1.5" stroke-dasharray="6.5 4.2" stroke-dashoffset="-0.6"/>
<polygon points="548.5,350.5 549.6,330.0 550.8,320.0 554.1,314.0 558.0,309.0 560.6,307.0 565.7,304.0 573.4,299.0 578.6,296.0 591.4,290.0 599.2,286.0 606.9,282.0 620.0,277.0 630.7,273.0 650.0,270.0 666.7,269.5 676.0,269.5 676.0,269.8 666.7,271.0 650.0,273.5 630.7,280.0 620.0,285.0 606.9,292.0 599.2,296.0 591.4,300.0 578.6,308.0 573.4,311.0 565.7,316.0 560.6,319.5 558.0,321.0 554.1,326.0 550.8,334.0 549.6,345.0 548.5,350.5" fill="#d3d0f0"/>
<polyline points="549.0,350.5 549.6,322.1 554.4,322.1 554.4,316.2 559.5,316.2 559.5,314.0 564.9,314.0 564.9,312.8 570.9,312.8 570.9,311.5 573.8,311.5 573.8,310.7 580.0,310.7 580.0,307.5 586.9,307.5 586.9,303.5 593.7,303.5 593.7,299.3 597.0,299.3 597.0,295.5 599.5,295.5 599.5,293.0 602.9,293.0 602.9,290.8 606.5,290.8 606.5,290.7 610.9,290.7 610.9,288.4 617.2,288.4 617.2,283.4 622.0,283.4 622.0,280.8 627.5,280.8 627.5,276.9 634.5,276.9 634.5,275.4 641.4,275.4 641.4,274.8 645.4,274.8 645.4,272.6 648.9,272.6 648.9,271.7 654.8,271.7 654.8,271.4 659.1,271.4 659.1,271.0 666.0,271.0 666.0,270.1 672.3,270.1 672.3,269.6 676.0,269.6 676.0,269.7" fill="none" stroke="#1a1a1a" stroke-width="0.6" opacity="0.58"/>
<polyline points="549.0,350.5 549.6,323.9 553.9,323.9 553.9,321.9 559.9,321.9 559.9,320.3 563.6,320.3 563.6,317.1 570.4,317.1 570.4,313.0 576.4,313.0 576.4,311.6 579.3,311.6 579.3,310.4 582.1,310.4 582.1,308.4 587.1,308.4 587.1,304.7 591.6,304.7 591.6,304.1 594.7,304.1 594.7,302.1 600.1,302.1 600.1,299.4 603.6,299.4 603.6,297.0 607.3,297.0 607.3,294.6 611.1,294.6 611.1,291.0 617.6,291.0 617.6,287.8 624.0,287.8 624.0,285.1 629.4,285.1 629.4,283.0 632.8,283.0 632.8,281.6 636.5,281.6 636.5,280.1 640.3,280.1 640.3,277.8 643.1,277.8 643.1,277.4 646.7,277.4 646.7,275.7 651.9,275.7 651.9,273.7 658.8,273.7 658.8,272.9 663.4,272.9 663.4,271.4 666.8,271.4 666.8,270.6 669.9,270.6 669.9,270.4 673.6,270.4 673.6,269.8 676.0,269.8 676.0,269.7" fill="none" stroke="#1a1a1a" stroke-width="0.6" opacity="0.58"/>
<polyline points="549.0,350.5 549.6,326.4 556.1,326.4 556.1,322.7 561.3,322.7 561.3,319.3 564.0,319.3 564.0,316.5 570.8,316.5 570.8,313.3 574.4,313.3 574.4,311.7 580.7,311.7 580.7,308.1 583.9,308.1 583.9,304.8 589.7,304.8 589.7,303.5 594.7,303.5 594.7,301.4 601.0,301.4 601.0,296.0 607.7,296.0 607.7,292.0 611.1,292.0 611.1,291.2 615.6,291.2 615.6,289.3 618.4,289.3 618.4,287.8 623.4,287.8 623.4,285.9 626.5,285.9 626.5,281.6 633.4,281.6 633.4,281.0 638.9,281.0 638.9,278.7 642.0,278.7 642.0,276.4 644.7,276.4 644.7,276.4 650.3,276.4 650.3,274.5 657.2,274.5 657.2,273.2 661.8,273.2 661.8,272.0 667.6,272.0 667.6,270.8 670.5,270.8 670.5,270.4 675.4,270.4 675.4,269.8 676.0,269.8 676.0,269.7" fill="none" stroke="#1a1a1a" stroke-width="0.6" opacity="0.58"/>
<polyline points="549.0,350.5 549.6,318.3 556.2,318.3 556.2,310.5 562.8,310.5 562.8,309.5 569.2,309.5 569.2,302.7 575.6,302.7 575.6,301.9 580.7,301.9 580.7,297.9 585.8,297.9 585.8,293.9 591.0,293.9 591.0,293.6 598.0,293.6 598.0,291.6 604.4,291.6 604.4,287.8 610.3,287.8 610.3,283.7 615.4,283.7 615.4,279.2 618.2,279.2 618.2,278.6 624.1,278.6 624.1,278.3 628.8,278.3 628.8,276.9 632.3,276.9 632.3,275.3 637.6,275.3 637.6,272.7 644.2,272.7 644.2,271.6 648.1,271.6 648.1,271.0 653.6,271.0 653.6,270.7 660.2,270.7 660.2,270.5 665.7,270.5 665.7,269.6 669.7,269.6 669.7,269.6 675.1,269.6 675.1,269.5 676.0,269.5 676.0,269.7" fill="none" stroke="#1a1a1a" stroke-width="0.6" opacity="0.58"/>
<polyline points="549.0,350.5 549.6,328.5 553.8,328.5 553.8,323.3 556.9,323.3 556.9,319.5 561.7,319.5 561.7,318.4 567.4,318.4 567.4,310.9 574.2,310.9 574.2,307.9 578.7,307.9 578.7,307.5 582.4,307.5 582.4,305.7 587.7,305.7 587.7,305.4 592.5,305.4 592.5,300.9 599.4,300.9 599.4,299.5 603.9,299.5 603.9,295.9 610.3,295.9 610.3,293.2 613.0,293.2 613.0,290.7 616.9,290.7 616.9,285.9 623.0,285.9 623.0,284.2 627.5,284.2 627.5,282.7 630.1,282.7 630.1,281.9 633.3,281.9 633.3,280.0 636.0,280.0 636.0,277.6 641.3,277.6 641.3,275.1 646.8,275.1 646.8,274.1 652.3,274.1 652.3,271.7 655.7,271.7 655.7,271.1 658.3,271.1 658.3,270.8 662.9,270.8 662.9,270.4 666.6,270.4 666.6,269.9 670.7,269.9 670.7,269.6 676.0,269.6 676.0,269.4 676.0,269.4 676.0,269.7" fill="none" stroke="#1a1a1a" stroke-width="0.6" opacity="0.58"/>
<polyline points="549.0,350.5 549.6,321.1 556.3,321.1 556.3,315.3 562.0,315.3 562.0,313.7 567.4,313.7 567.4,311.7 574.0,311.7 574.0,306.7 580.4,306.7 580.4,305.7 586.5,305.7 586.5,305.1 591.9,305.1 591.9,302.1 595.4,302.1 595.4,299.3 600.7,299.3 600.7,292.1 606.5,292.1 606.5,289.6 613.4,289.6 613.4,289.5 620.3,289.5 620.3,284.1 624.2,284.1 624.2,281.1 630.8,281.1 630.8,279.9 633.7,279.9 633.7,277.8 638.2,277.8 638.2,274.6 642.9,274.6 642.9,273.1 645.5,273.1 645.5,272.2 651.6,272.2 651.6,271.3 654.9,271.3 654.9,270.5 658.0,270.5 658.0,271.1 661.2,271.1 661.2,270.0 667.5,270.0 667.5,269.7 673.1,269.7 673.1,269.5 676.0,269.5 676.0,269.7" fill="none" stroke="#1a1a1a" stroke-width="0.6" opacity="0.58"/>
<polyline points="549.0,350.5 549.6,313.1 554.5,313.1 554.5,306.8 559.8,306.8 559.8,307.2 564.7,307.2 564.7,306.4 568.6,306.4 568.6,302.0 572.8,302.0 572.8,302.5 576.3,302.5 576.3,296.4 582.6,296.4 582.6,296.2 587.7,296.2 587.7,293.6 591.1,293.6 591.1,289.0 596.3,289.0 596.3,286.5 598.9,286.5 598.9,287.3 603.2,287.3 603.2,284.0 609.3,284.0 609.3,279.9 614.9,279.9 614.9,277.8 617.7,277.8 617.7,276.2 624.5,276.2 624.5,273.4 631.2,273.4 631.2,271.9 634.3,271.9 634.3,272.8 638.7,272.8 638.7,272.9 643.4,272.9 643.4,270.2 647.3,270.2 647.3,270.0 653.9,270.0 653.9,270.6 657.0,270.6 657.0,270.4 660.4,270.4 660.4,270.1 663.9,270.1 663.9,269.8 668.0,269.8 668.0,269.5 673.3,269.5 673.3,269.5 676.0,269.5 676.0,269.7" fill="none" stroke="#1a1a1a" stroke-width="0.6" opacity="0.58"/>
<polyline points="549.0,350.5 549.6,320.7 553.0,320.7 553.0,314.4 557.2,314.4 557.2,310.5 561.5,310.5 561.5,307.0 565.0,307.0 565.0,304.4 570.3,304.4 570.3,299.7 576.6,299.7 576.6,294.7 581.9,294.7 581.9,293.0 587.7,293.0 587.7,288.9 593.9,288.9 593.9,288.0 597.8,288.0 597.8,284.3 604.4,284.3 604.4,282.4 610.9,282.4 610.9,287.1 614.0,287.1 614.0,285.7 617.7,285.7 617.7,286.6 620.6,286.6 620.6,285.2 626.7,285.2 626.7,281.8 629.8,281.8 629.8,278.7 632.3,278.7 632.3,279.0 635.7,279.0 635.7,276.3 642.6,276.3 642.6,272.9 645.6,272.9 645.6,270.6 650.4,270.6 650.4,270.1 656.0,270.1 656.0,270.1 658.9,270.1 658.9,270.1 661.6,270.1 661.6,269.5 666.7,269.5 666.7,269.4 669.8,269.4 669.8,269.4 676.0,269.4 676.0,269.7" fill="none" stroke="#1a1a1a" stroke-width="0.6" opacity="0.58"/>
<polyline points="549.0,350.5 549.6,329.2 552.5,329.2 552.5,325.4 557.1,325.4 557.1,322.0 563.0,322.0 563.0,317.0 567.9,317.0 567.9,315.2 572.3,315.2 572.3,312.2 578.0,312.2 578.0,309.6 584.3,309.6 584.3,307.1 590.1,307.1 590.1,304.6 594.4,304.6 594.4,302.4 599.2,302.4 599.2,300.3 601.8,300.3 601.8,297.5 607.5,297.5 607.5,291.7 613.8,291.7 613.8,287.4 619.0,287.4 619.0,283.8 623.8,283.8 623.8,284.5 627.5,284.5 627.5,281.8 634.1,281.8 634.1,279.4 640.2,279.4 640.2,275.7 644.6,275.7 644.6,275.5 650.2,275.5 650.2,273.1 656.1,273.1 656.1,272.2 661.9,272.2 661.9,271.1 664.7,271.1 664.7,270.6 667.2,270.6 667.2,270.4 671.3,270.4 671.3,269.9 674.9,269.9 674.9,269.5 676.0,269.5 676.0,269.7" fill="none" stroke="#1a1a1a" stroke-width="0.6" opacity="0.58"/>
<polyline points="549.0,350.5 549.6,318.2 554.5,318.2 554.5,311.2 558.8,311.2 558.8,311.2 564.4,311.2 564.4,307.8 570.3,307.8 570.3,305.1 575.6,305.1 575.6,302.6 581.4,302.6 581.4,300.4 584.2,300.4 584.2,301.2 587.5,301.2 587.5,298.7 591.2,298.7 591.2,296.9 597.7,296.9 597.7,291.0 604.6,291.0 604.6,286.8 609.6,286.8 609.6,287.0 615.8,287.0 615.8,284.8 618.6,284.8 618.6,281.5 621.3,281.5 621.3,278.0 628.0,278.0 628.0,276.7 631.3,276.7 631.3,276.8 636.0,276.8 636.0,274.9 642.8,274.9 642.8,273.3 647.2,273.3 647.2,271.2 651.3,271.2 651.3,270.7 655.1,270.7 655.1,270.1 658.9,270.1 658.9,269.5 664.6,269.5 664.6,269.4 668.2,269.4 668.2,269.4 670.9,269.4 670.9,269.5 675.1,269.5 675.1,269.5 676.0,269.5 676.0,269.7" fill="none" stroke="#1a1a1a" stroke-width="0.6" opacity="0.58"/>
<polyline points="549.0,350.5 549.6,324.4 552.4,324.4 552.4,319.3 559.0,319.3 559.0,312.5 565.9,312.5 565.9,310.4 569.5,310.4 569.5,302.8 575.2,302.8 575.2,299.6 579.8,299.6 579.8,301.2 585.1,301.2 585.1,298.6 588.1,298.6 588.1,295.4 591.5,295.4 591.5,292.2 594.2,292.2 594.2,289.3 598.7,289.3 598.7,286.6 604.2,286.6 604.2,282.2 609.3,282.2 609.3,281.0 613.7,281.0 613.7,279.4 620.7,279.4 620.7,275.0 627.5,275.0 627.5,272.9 630.5,272.9 630.5,271.8 637.0,271.8 637.0,271.4 641.2,271.4 641.2,270.5 644.9,270.5 644.9,269.9 650.0,269.9 650.0,269.6 655.4,269.6 655.4,269.5 659.0,269.5 659.0,269.5 665.9,269.5 665.9,269.9 668.6,269.9 668.6,269.5 671.4,269.5 671.4,269.5 676.0,269.5 676.0,269.7" fill="none" stroke="#1a1a1a" stroke-width="0.6" opacity="0.58"/>
<polyline points="549.0,350.5 549.6,320.2 552.4,320.2 552.4,318.9 557.4,318.9 557.4,317.0 562.7,317.0 562.7,312.4 566.2,312.4 566.2,311.9 570.2,311.9 570.2,309.7 573.1,309.7 573.1,304.2 576.1,304.2 576.1,303.3 582.1,303.3 582.1,298.2 585.5,298.2 585.5,294.3 591.7,294.3 591.7,292.6 595.8,292.6 595.8,286.9 599.8,286.9 599.8,282.9 604.8,282.9 604.8,280.6 609.2,280.6 609.2,279.3 613.4,279.3 613.4,281.1 616.2,281.1 616.2,281.9 619.1,281.9 619.1,278.6 624.7,278.6 624.7,275.9 628.5,275.9 628.5,274.4 632.0,274.4 632.0,272.9 637.4,272.9 637.4,272.8 643.2,272.8 643.2,272.1 648.8,272.1 648.8,271.1 652.9,271.1 652.9,271.1 658.7,271.1 658.7,270.4 664.4,270.4 664.4,270.1 669.5,270.1 669.5,270.0 676.0,270.0 676.0,269.7" fill="none" stroke="#1a1a1a" stroke-width="0.6" opacity="0.58"/>
<polyline points="549.0,350.5 549.6,319.8 553.5,319.8 553.5,313.6 560.2,313.6 560.2,311.5 566.7,311.5 566.7,308.4 570.8,308.4 570.8,307.9 575.0,307.9 575.0,304.7 578.4,304.7 578.4,304.1 583.4,304.1 583.4,302.1 589.7,302.1 589.7,296.7 594.7,296.7 594.7,295.6 601.2,295.6 601.2,295.8 604.9,295.8 604.9,295.4 609.9,295.4 609.9,292.8 614.9,292.8 614.9,289.5 621.0,289.5 621.0,286.7 623.8,286.7 623.8,282.9 626.7,282.9 626.7,280.8 629.6,280.8 629.6,279.3 632.5,279.3 632.5,275.3 637.8,275.3 637.8,275.1 643.2,275.1 643.2,275.1 646.8,275.1 646.8,274.0 651.7,274.0 651.7,274.0 657.6,274.0 657.6,272.3 664.5,272.3 664.5,271.3 670.0,271.3 670.0,270.2 675.8,270.2 675.8,269.7 676.0,269.7 676.0,269.7" fill="none" stroke="#1a1a1a" stroke-width="0.6" opacity="0.58"/>
<polyline points="549.0,350.5 549.6,323.2 555.9,323.2 555.9,314.9 562.1,314.9 562.1,313.3 568.9,313.3 568.9,305.9 574.3,305.9 574.3,299.8 580.4,299.8 580.4,296.8 584.8,296.8 584.8,293.2 590.6,293.2 590.6,290.7 597.6,290.7 597.6,287.2 601.0,287.2 601.0,286.0 605.4,286.0 605.4,282.7 608.2,282.7 608.2,286.3 612.0,286.3 612.0,286.0 618.0,286.0 618.0,285.3 621.3,285.3 621.3,284.8 626.5,284.8 626.5,282.7 633.1,282.7 633.1,281.3 636.4,281.3 636.4,280.1 639.9,280.1 639.9,278.4 645.1,278.4 645.1,276.7 648.6,276.7 648.6,275.4 651.8,275.4 651.8,274.3 657.7,274.3 657.7,272.7 663.9,272.7 663.9,271.7 668.6,271.7 668.6,270.6 675.2,270.6 675.2,269.8 676.0,269.8 676.0,269.7" fill="none" stroke="#1a1a1a" stroke-width="0.6" opacity="0.58"/>
<polyline points="549.0,350.5 549.6,323.6 552.3,323.6 552.3,319.0 559.1,319.0 559.1,315.8 564.0,315.8 564.0,310.6 568.8,310.6 568.8,306.7 574.2,306.7 574.2,310.9 577.8,310.9 577.8,310.8 582.0,310.8 582.0,308.2 588.1,308.2 588.1,305.2 591.3,305.2 591.3,300.7 594.5,300.7 594.5,297.6 600.9,297.6 600.9,295.8 605.7,295.8 605.7,289.0 609.4,289.0 609.4,282.7 614.3,282.7 614.3,283.0 616.8,283.0 616.8,283.3 623.0,283.3 623.0,282.8 625.9,282.8 625.9,279.1 629.6,279.1 629.6,277.3 634.3,277.3 634.3,275.5 638.9,275.5 638.9,275.4 645.2,275.4 645.2,273.6 649.1,273.6 649.1,272.7 655.7,272.7 655.7,271.5 658.6,271.5 658.6,271.2 663.6,271.2 663.6,270.4 668.4,270.4 668.4,270.2 672.4,270.2 672.4,270.0 676.0,270.0 676.0,269.7" fill="none" stroke="#1a1a1a" stroke-width="0.6" opacity="0.58"/>
<polyline points="549.0,350.5 549.6,311.7 553.7,311.7 553.7,307.3 559.3,307.3 559.3,305.6 563.9,305.6 563.9,304.0 570.7,304.0 570.7,303.0 573.3,303.0 573.3,298.6 577.5,298.6 577.5,295.9 582.5,295.9 582.5,292.0 587.1,292.0 587.1,296.2 593.2,296.2 593.2,294.3 596.6,294.3 596.6,291.1 600.8,291.1 600.8,287.4 605.7,287.4 605.7,284.4 610.0,284.4 610.0,284.1 615.5,284.1 615.5,281.8 621.3,281.8 621.3,280.7 625.3,280.7 625.3,280.3 631.0,280.3 631.0,277.8 635.0,277.8 635.0,277.0 638.2,277.0 638.2,275.7 641.1,275.7 641.1,274.1 644.4,274.1 644.4,271.9 648.7,271.9 648.7,271.7 651.6,271.7 651.6,270.6 655.1,270.6 655.1,270.6 659.5,270.6 659.5,270.5 662.3,270.5 662.3,270.6 667.1,270.6 667.1,270.0 672.5,270.0 672.5,269.7 676.0,269.7 676.0,269.7" fill="none" stroke="#1a1a1a" stroke-width="0.6" opacity="0.58"/>
<polyline points="549.0,350.5 549.6,314.8 552.2,314.8 552.2,307.4 559.1,307.4 559.1,304.9 565.1,304.9 565.1,301.0 567.7,301.0 567.7,299.1 571.7,299.1 571.7,297.4 574.7,297.4 574.7,298.1 578.9,298.1 578.9,292.9 585.1,292.9 585.1,290.1 590.4,290.1 590.4,289.2 596.9,289.2 596.9,289.5 601.9,289.5 601.9,285.8 605.0,285.8 605.0,285.4 610.7,285.4 610.7,285.2 616.5,285.2 616.5,282.5 622.7,282.5 622.7,281.0 628.0,281.0 628.0,282.3 631.4,282.3 631.4,281.5 636.5,281.5 636.5,279.7 642.2,279.7 642.2,276.7 646.3,276.7 646.3,276.0 650.9,276.0 650.9,274.8 654.0,274.8 654.0,273.7 660.5,273.7 660.5,271.9 665.6,271.9 665.6,271.0 669.3,271.0 669.3,270.5 675.4,270.5 675.4,269.7 676.0,269.7 676.0,269.7" fill="none" stroke="#1a1a1a" stroke-width="0.6" opacity="0.58"/>
<polyline points="549.0,350.5 549.6,318.9 553.2,318.9 553.2,319.1 558.3,319.1 558.3,316.4 563.2,316.4 563.2,312.6 566.1,312.6 566.1,311.0 573.0,311.0 573.0,307.8 579.7,307.8 579.7,304.1 585.3,304.1 585.3,299.7 591.1,299.7 591.1,294.6 597.2,294.6 597.2,294.5 599.8,294.5 599.8,293.6 602.9,293.6 602.9,293.5 607.2,293.5 607.2,289.9 612.0,289.9 612.0,287.3 615.7,287.3 615.7,283.8 621.1,283.8 621.1,281.4 623.7,281.4 623.7,278.9 630.6,278.9 630.6,276.0 635.8,276.0 635.8,273.6 641.1,273.6 641.1,272.6 646.7,272.6 646.7,271.6 651.4,271.6 651.4,270.0 658.3,270.0 658.3,270.3 662.7,270.3 662.7,269.4 667.1,269.4 667.1,269.4 672.0,269.4 672.0,269.4 676.0,269.4 676.0,269.7" fill="none" stroke="#1a1a1a" stroke-width="0.6" opacity="0.58"/>
<polyline points="549.0,350.5 549.6,321.8 555.4,321.8 555.4,317.1 561.9,317.1 561.9,312.9 567.8,312.9 567.8,307.1 571.7,307.1 571.7,304.5 574.7,304.5 574.7,302.4 579.2,302.4 579.2,298.5 582.0,298.5 582.0,296.4 587.6,296.4 587.6,292.5 591.5,292.5 591.5,290.3 595.8,290.3 595.8,287.7 602.4,287.7 602.4,284.8 609.2,284.8 609.2,280.7 613.6,280.7 613.6,277.7 619.7,277.7 619.7,276.2 624.8,276.2 624.8,276.1 631.3,276.1 631.3,276.5 634.4,276.5 634.4,276.7 639.3,276.7 639.3,275.5 642.9,275.5 642.9,274.4 646.8,274.4 646.8,272.8 653.3,272.8 653.3,272.2 659.5,272.2 659.5,271.1 664.6,271.1 664.6,270.8 667.3,270.8 667.3,270.8 671.2,270.8 671.2,270.2 675.9,270.2 675.9,269.8 676.0,269.8 676.0,269.7" fill="none" stroke="#1a1a1a" stroke-width="0.6" opacity="0.58"/>
<polyline points="549.0,350.5 549.6,312.1 556.3,312.1 556.3,307.4 562.5,307.4 562.5,303.7 566.6,303.7 566.6,299.7 573.1,299.7 573.1,296.6 580.1,296.6 580.1,294.9 583.4,294.9 583.4,295.4 589.9,295.4 589.9,293.4 595.6,293.4 595.6,291.4 599.6,291.4 599.6,292.2 605.3,292.2 605.3,287.2 608.4,287.2 608.4,284.1 612.9,284.1 612.9,278.8 615.7,278.8 615.7,277.8 621.4,277.8 621.4,277.2 624.8,277.2 624.8,275.8 630.3,275.8 630.3,274.8 636.4,274.8 636.4,272.3 642.8,272.3 642.8,272.3 648.0,272.3 648.0,271.3 654.7,271.3 654.7,271.3 660.2,271.3 660.2,270.7 663.1,270.7 663.1,270.7 670.0,270.7 670.0,269.9 674.9,269.9 674.9,269.6 676.0,269.6 676.0,269.7" fill="none" stroke="#1a1a1a" stroke-width="0.6" opacity="0.58"/>
<polyline points="549.0,350.5 549.6,319.8 552.5,319.8 552.5,320.2 556.3,320.2 556.3,317.1 560.0,317.1 560.0,312.9 565.0,312.9 565.0,311.1 571.9,311.1 571.9,312.2 574.6,312.2 574.6,307.6 578.8,307.6 578.8,306.0 585.5,306.0 585.5,301.7 590.5,301.7 590.5,299.2 595.9,299.2 595.9,294.4 601.9,294.4 601.9,293.4 606.8,293.4 606.8,286.8 612.3,286.8 612.3,284.4 617.2,284.4 617.2,283.0 623.2,283.0 623.2,280.6 626.4,280.6 626.4,278.0 630.9,278.0 630.9,275.7 636.9,275.7 636.9,275.0 640.5,275.0 640.5,272.2 645.2,272.2 645.2,271.5 649.9,271.5 649.9,271.9 652.6,271.9 652.6,270.7 657.6,270.7 657.6,269.9 664.1,269.9 664.1,269.8 666.6,269.8 666.6,269.8 671.4,269.8 671.4,269.5 675.1,269.5 675.1,269.5 676.0,269.5 676.0,269.7" fill="none" stroke="#1a1a1a" stroke-width="0.6" opacity="0.58"/>
<polyline points="549.0,350.5 549.6,316.4 555.7,316.4 555.7,310.5 559.2,310.5 559.2,309.7 561.9,309.7 561.9,309.4 565.8,309.4 565.8,305.3 569.5,305.3 569.5,301.2 574.7,301.2 574.7,302.5 578.0,302.5 578.0,303.0 581.6,303.0 581.6,302.4 587.8,302.4 587.8,302.2 593.9,302.2 593.9,301.7 598.0,301.7 598.0,300.6 601.5,300.6 601.5,298.1 606.2,298.1 606.2,294.6 612.1,294.6 612.1,291.6 616.7,291.6 616.7,288.5 622.5,288.5 622.5,285.5 629.0,285.5 629.0,283.3 632.2,283.3 632.2,280.9 636.6,280.9 636.6,280.1 639.4,280.1 639.4,278.5 645.4,278.5 645.4,276.1 651.2,276.1 651.2,274.6 656.1,274.6 656.1,273.6 659.7,273.6 659.7,271.8 663.9,271.8 663.9,271.3 667.9,271.3 667.9,271.0 670.6,271.0 670.6,270.4 674.9,270.4 674.9,269.8 676.0,269.8 676.0,269.7" fill="none" stroke="#1a1a1a" stroke-width="0.6" opacity="0.58"/>
<polyline points="549.0,350.5 549.6,323.7 554.8,323.7 554.8,321.2 559.0,321.2 559.0,316.2 565.3,316.2 565.3,310.3 568.8,310.3 568.8,310.6 572.9,310.6 572.9,309.7 576.1,309.7 576.1,311.0 579.5,311.0 579.5,309.9 583.4,309.9 583.4,307.9 587.9,307.9 587.9,305.2 594.3,305.2 594.3,302.6 597.7,302.6 597.7,299.6 603.3,299.6 603.3,296.8 607.5,296.8 607.5,294.5 610.8,294.5 610.8,292.6 614.5,292.6 614.5,287.0 620.2,287.0 620.2,286.8 623.9,286.8 623.9,283.8 630.6,283.8 630.6,282.0 634.7,282.0 634.7,280.1 641.3,280.1 641.3,276.6 643.9,276.6 643.9,275.3 646.8,275.3 646.8,274.4 653.2,274.4 653.2,272.9 658.1,272.9 658.1,273.0 660.8,273.0 660.8,272.2 663.5,272.2 663.5,271.8 666.7,271.8 666.7,271.0 670.6,271.0 670.6,270.3 675.0,270.3 675.0,269.7 676.0,269.7 676.0,269.7" fill="none" stroke="#1a1a1a" stroke-width="0.6" opacity="0.58"/>
<polyline points="549.0,350.5 549.6,319.0 555.1,319.0 555.1,315.4 558.9,315.4 558.9,313.7 564.6,313.7 564.6,308.2 571.0,308.2 571.0,306.5 574.5,306.5 574.5,304.5 578.0,304.5 578.0,305.1 580.6,305.1 580.6,306.2 585.7,306.2 585.7,303.9 591.8,303.9 591.8,302.9 597.3,302.9 597.3,299.4 604.0,299.4 604.0,296.0 609.5,296.0 609.5,292.5 616.3,292.5 616.3,288.9 621.6,288.9 621.6,286.0 624.5,286.0 624.5,283.4 627.3,283.4 627.3,282.4 631.5,282.4 631.5,280.0 635.3,280.0 635.3,280.1 638.5,280.1 638.5,277.8 641.7,277.8 641.7,276.9 647.2,276.9 647.2,275.1 651.3,275.1 651.3,274.4 655.7,274.4 655.7,273.5 661.3,273.5 661.3,272.3 666.3,272.3 666.3,271.2 670.6,271.2 670.6,270.4 674.7,270.4 674.7,269.8 676.0,269.8 676.0,269.7" fill="none" stroke="#1a1a1a" stroke-width="0.6" opacity="0.58"/>
<polyline points="549.0,350.5 549.6,321.4 554.2,321.4 554.2,317.0 556.8,317.0 556.8,316.0 560.9,316.0 560.9,316.0 564.6,316.0 564.6,311.3 570.1,311.3 570.1,309.0 575.3,309.0 575.3,308.8 582.1,308.8 582.1,303.6 588.9,303.6 588.9,302.6 594.8,302.6 594.8,298.0 599.2,298.0 599.2,293.4 603.6,293.4 603.6,289.5 610.0,289.5 610.0,290.4 614.2,290.4 614.2,288.8 617.3,288.8 617.3,286.4 622.1,286.4 622.1,283.2 629.0,283.2 629.0,282.1 632.2,282.1 632.2,280.8 637.8,280.8 637.8,279.6 641.3,279.6 641.3,278.0 645.6,278.0 645.6,276.5 649.2,276.5 649.2,274.0 654.1,274.0 654.1,273.1 659.4,273.1 659.4,271.2 666.3,271.2 666.3,270.3 670.3,270.3 670.3,269.8 674.2,269.8 674.2,269.6 676.0,269.6 676.0,269.7" fill="none" stroke="#1a1a1a" stroke-width="0.6" opacity="0.58"/>
<polyline points="549.0,350.5 549.6,327.8 552.8,327.8 552.8,322.7 558.1,322.7 558.1,316.6 562.3,316.6 562.3,314.2 566.1,314.2 566.1,311.9 569.6,311.9 569.6,307.1 573.3,307.1 573.3,304.5 578.1,304.5 578.1,304.0 581.1,304.0 581.1,303.2 584.1,303.2 584.1,301.4 589.8,301.4 589.8,300.4 595.7,300.4 595.7,299.3 600.4,299.3 600.4,298.1 606.8,298.1 606.8,295.2 609.6,295.2 609.6,292.6 615.6,292.6 615.6,289.6 619.9,289.6 619.9,286.7 625.6,286.7 625.6,283.4 629.6,283.4 629.6,280.0 635.9,280.0 635.9,279.5 642.1,279.5 642.1,276.3 647.8,276.3 647.8,274.1 653.1,274.1 653.1,273.8 656.2,273.8 656.2,272.3 660.4,272.3 660.4,271.5 663.7,271.5 663.7,270.9 666.3,270.9 666.3,269.9 673.1,269.9 673.1,269.5 676.0,269.5 676.0,269.7" fill="none" stroke="#1a1a1a" stroke-width="0.6" opacity="0.58"/>
<polyline points="549.0,350.5 549.6,318.2 556.3,318.2 556.3,310.7 563.2,310.7 563.2,311.2 566.3,311.2 566.3,310.5 569.0,310.5 569.0,306.9 575.9,306.9 575.9,308.2 579.0,308.2 579.0,306.1 583.9,306.1 583.9,304.2 588.6,304.2 588.6,300.2 594.7,300.2 594.7,298.5 601.0,298.5 601.0,294.6 606.3,294.6 606.3,293.1 612.2,293.1 612.2,291.2 617.8,291.2 617.8,288.0 622.8,288.0 622.8,286.2 626.1,286.2 626.1,283.9 629.1,283.9 629.1,282.9 633.7,282.9 633.7,281.0 636.8,281.0 636.8,279.3 641.8,279.3 641.8,277.8 645.0,277.8 645.0,276.0 648.5,276.0 648.5,274.2 653.2,274.2 653.2,273.2 655.9,273.2 655.9,273.0 658.7,273.0 658.7,272.8 661.5,272.8 661.5,272.0 664.9,272.0 664.9,270.3 668.3,270.3 668.3,270.0 674.7,270.0 674.7,269.5 676.0,269.5 676.0,269.7" fill="none" stroke="#1a1a1a" stroke-width="0.6" opacity="0.58"/>
<polyline points="549.0,350.5 549.6,315.3 554.6,315.3 554.6,309.0 558.3,309.0 558.3,303.0 565.0,303.0 565.0,304.8 569.5,304.8 569.5,297.7 575.8,297.7 575.8,295.3 578.4,295.3 578.4,293.8 581.7,293.8 581.7,292.6 585.8,292.6 585.8,290.8 591.7,290.8 591.7,287.8 594.2,287.8 594.2,288.8 597.7,288.8 597.7,287.0 602.5,287.0 602.5,284.0 608.7,284.0 608.7,282.7 613.0,282.7 613.0,278.2 619.1,278.2 619.1,277.1 626.0,277.1 626.0,273.5 629.0,273.5 629.0,273.4 634.7,273.4 634.7,272.2 638.3,272.2 638.3,271.7 643.4,271.7 643.4,270.9 646.9,270.9 646.9,269.6 652.4,269.6 652.4,269.9 658.5,269.9 658.5,269.5 662.6,269.5 662.6,269.8 666.4,269.8 666.4,269.9 669.3,269.9 669.3,269.6 673.3,269.6 673.3,269.5 676.0,269.5 676.0,269.7" fill="none" stroke="#1a1a1a" stroke-width="0.6" opacity="0.58"/>
<polyline points="549.0,350.5 549.6,321.0 552.9,321.0 552.9,318.1 557.0,318.1 557.0,315.6 561.4,315.6 561.4,315.7 565.7,315.7 565.7,313.2 569.7,313.2 569.7,305.9 573.1,305.9 573.1,302.3 579.6,302.3 579.6,298.5 582.5,298.5 582.5,299.4 589.5,299.4 589.5,291.8 593.0,291.8 593.0,292.2 597.3,292.2 597.3,289.9 601.0,289.9 601.0,286.0 606.6,286.0 606.6,285.5 609.9,285.5 609.9,283.5 614.0,283.5 614.0,282.6 619.4,282.6 619.4,280.5 623.6,280.5 623.6,277.8 628.9,277.8 628.9,274.7 635.4,274.7 635.4,274.6 640.1,274.6 640.1,272.4 645.2,272.4 645.2,272.5 650.8,272.5 650.8,272.5 655.3,272.5 655.3,271.6 659.6,271.6 659.6,270.8 663.1,270.8 663.1,270.0 667.9,270.0 667.9,269.7 670.6,269.7 670.6,269.5 675.7,269.5 675.7,269.4 676.0,269.4 676.0,269.7" fill="none" stroke="#1a1a1a" stroke-width="0.6" opacity="0.58"/>
<polyline points="549.0,350.5 549.6,313.2 555.4,313.2 555.4,309.6 559.3,309.6 559.3,306.5 563.6,306.5 563.6,300.5 570.0,300.5 570.0,302.2 574.8,302.2 574.8,304.8 578.3,304.8 578.3,304.1 585.0,304.1 585.0,298.3 591.3,298.3 591.3,295.8 598.2,295.8 598.2,290.9 601.0,290.9 601.0,291.3 604.6,291.3 604.6,286.3 610.8,286.3 610.8,281.6 617.2,281.6 617.2,280.4 620.6,280.4 620.6,278.7 623.4,278.7 623.4,279.1 628.4,279.1 628.4,277.5 632.0,277.5 632.0,274.7 638.1,274.7 638.1,274.7 643.0,274.7 643.0,272.0 649.6,272.0 649.6,271.2 653.8,271.2 653.8,270.6 656.7,270.6 656.7,270.7 663.1,270.7 663.1,270.3 669.4,270.3 669.4,270.0 673.6,270.0 673.6,269.6 676.0,269.6 676.0,269.7" fill="none" stroke="#1a1a1a" stroke-width="0.6" opacity="0.58"/>
<polyline points="549.0,350.5 549.6,329.0 553.0,329.0 553.0,324.8 558.4,324.8 558.4,322.0 561.7,322.0 561.7,316.3 567.3,316.3 567.3,312.9 571.3,312.9 571.3,310.6 575.2,310.6 575.2,307.8 580.4,307.8 580.4,303.9 586.0,303.9 586.0,301.6 591.7,301.6 591.7,300.1 596.3,300.1 596.3,298.1 603.0,298.1 603.0,294.9 608.2,294.9 608.2,290.7 615.2,290.7 615.2,288.1 620.8,288.1 620.8,285.6 624.7,285.6 624.7,282.3 629.1,282.3 629.1,281.5 633.5,281.5 633.5,280.8 639.7,280.8 639.7,277.7 644.4,277.7 644.4,276.0 651.2,276.0 651.2,273.9 654.7,273.9 654.7,273.7 659.9,273.7 659.9,272.5 663.6,272.5 663.6,271.6 670.0,271.6 670.0,270.3 676.0,270.3 676.0,269.7" fill="none" stroke="#1a1a1a" stroke-width="0.6" opacity="0.58"/>
<polyline points="549.0,350.5 549.6,318.5 554.8,318.5 554.8,313.0 559.2,313.0 559.2,310.6 563.0,310.6 563.0,303.2 566.8,303.2 566.8,302.8 572.4,302.8 572.4,299.5 576.8,299.5 576.8,296.2 579.8,296.2 579.8,295.7 584.2,295.7 584.2,292.6 588.3,292.6 588.3,292.2 593.4,292.2 593.4,286.1 598.4,286.1 598.4,287.9 601.3,287.9 601.3,288.6 605.4,288.6 605.4,283.8 610.9,283.8 610.9,284.1 615.0,284.1 615.0,285.9 617.6,285.9 617.6,281.8 622.9,281.8 622.9,278.2 627.5,278.2 627.5,276.6 631.5,276.6 631.5,274.3 638.3,274.3 638.3,271.6 645.2,271.6 645.2,271.4 651.4,271.4 651.4,270.7 656.9,270.7 656.9,269.9 659.7,269.9 659.7,269.5 664.2,269.5 664.2,269.4 667.7,269.4 667.7,269.5 674.7,269.5 674.7,269.5 676.0,269.5 676.0,269.7" fill="none" stroke="#1a1a1a" stroke-width="0.6" opacity="0.58"/>
<polyline points="548.5,350.5 549.6,342.0 550.8,329.5 554.1,321.7 558.0,317.5 560.6,316.0 565.7,312.7 573.4,307.5 578.6,304.5 591.4,296.0 599.2,292.0 606.9,288.0 620.0,281.9 630.7,277.5 650.0,271.8 666.7,270.2 676.0,269.7" fill="none" stroke="#2a2aa8" stroke-width="2.1" stroke-linejoin="round" stroke-linecap="round"/>
<text x="549.2" y="368" font-size="10" text-anchor="middle" fill="#3a3a3a" font-weight="normal">0</text>
<text x="612.9" y="368" font-size="10" text-anchor="middle" fill="#3a3a3a" font-weight="normal" textLength="14.2" lengthAdjust="spacingAndGlyphs">0.5</text>
<text x="675.6" y="368" font-size="10" text-anchor="middle" fill="#3a3a3a" font-weight="normal" textLength="12.8" lengthAdjust="spacingAndGlyphs">1.0</text>
<text x="566.7" y="386.4" font-size="11.5" text-anchor="start" fill="#3a3a3a" font-weight="normal" textLength="96.3" lengthAdjust="spacingAndGlyphs">False positive rate</text></svg></body></html>
